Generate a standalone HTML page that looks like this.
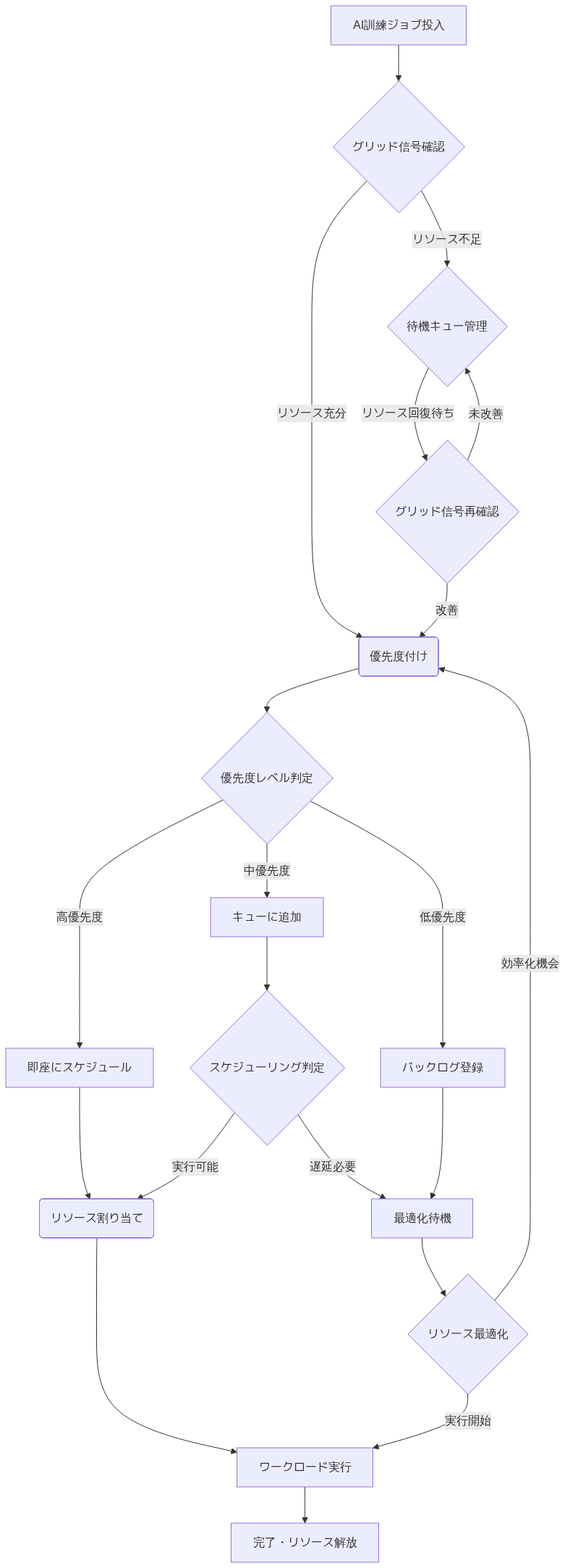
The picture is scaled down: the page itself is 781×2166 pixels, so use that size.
<!DOCTYPE html>
<html lang="ja">
<head>
<meta charset="utf-8">
<title>AI訓練ジョブ フローチャート</title>
<style>
html,body{margin:0;padding:0;background:#fff;}
body{width:781px;height:2166px;font-family:"Liberation Sans","WenQuanYi Zen Hei Mono","WenQuanYi Zen Hei",sans-serif;}
svg{will-change:transform;}
svg foreignObject{overflow:visible;}
</style>
</head>
<body>
<svg id="my-svg" width="781" height="2166" class="flowchart" style="display:block;background-color:white" viewBox="0 0 781 2166" role="graphics-document document" aria-roledescription="flowchart-v2"><style>#my-svg{font-family:"Liberation Sans","WenQuanYi Zen Hei Mono","WenQuanYi Zen Hei",sans-serif;font-size:16px;fill:#333;}@keyframes edge-animation-frame{from{stroke-dashoffset:0;}}@keyframes dash{to{stroke-dashoffset:0;}}#my-svg .edge-animation-slow{stroke-dasharray:9,5!important;stroke-dashoffset:900;animation:dash 50s linear infinite;stroke-linecap:round;}#my-svg .edge-animation-fast{stroke-dasharray:9,5!important;stroke-dashoffset:900;animation:dash 20s linear infinite;stroke-linecap:round;}#my-svg .error-icon{fill:#552222;}#my-svg .error-text{fill:#552222;stroke:#552222;}#my-svg .edge-thickness-normal{stroke-width:1px;}#my-svg .edge-thickness-thick{stroke-width:3.5px;}#my-svg .edge-pattern-solid{stroke-dasharray:0;}#my-svg .edge-thickness-invisible{stroke-width:0;fill:none;}#my-svg .edge-pattern-dashed{stroke-dasharray:3;}#my-svg .edge-pattern-dotted{stroke-dasharray:2;}#my-svg .marker{fill:#333333;stroke:#333333;}#my-svg .marker.cross{stroke:#333333;}#my-svg svg{font-family:"Liberation Sans","WenQuanYi Zen Hei Mono","WenQuanYi Zen Hei",sans-serif;font-size:16px;}#my-svg p{margin:0;}#my-svg .label{font-family:"Liberation Sans","WenQuanYi Zen Hei Mono","WenQuanYi Zen Hei",sans-serif;color:#333;}#my-svg .cluster-label text{fill:#333;}#my-svg .cluster-label span{color:#333;}#my-svg .cluster-label span p{background-color:transparent;}#my-svg .label text,#my-svg span{fill:#333;color:#333;}#my-svg .node rect,#my-svg .node circle,#my-svg .node ellipse,#my-svg .node polygon,#my-svg .node path{fill:#ECECFF;stroke:#9370DB;stroke-width:1px;}#my-svg .rough-node .label text,#my-svg .node .label text,#my-svg .image-shape .label,#my-svg .icon-shape .label{text-anchor:middle;}#my-svg .node .katex path{fill:#000;stroke:#000;stroke-width:1px;}#my-svg .rough-node .label,#my-svg .node .label,#my-svg .image-shape .label,#my-svg .icon-shape .label{text-align:center;}#my-svg .node.clickable{cursor:pointer;}#my-svg .root .anchor path{fill:#333333!important;stroke-width:0;stroke:#333333;}#my-svg .arrowheadPath{fill:#333333;}#my-svg .edgePath .path{stroke:#333333;stroke-width:2.0px;}#my-svg .flowchart-link{stroke:#333333;fill:none;}#my-svg .edgeLabel{background-color:rgba(232,232,232, 0.8);text-align:center;}#my-svg .edgeLabel p{background-color:rgba(232,232,232, 0.8);}#my-svg .edgeLabel rect{opacity:0.5;background-color:rgba(232,232,232, 0.8);fill:rgba(232,232,232, 0.8);}#my-svg .labelBkg{background-color:rgba(232, 232, 232, 0.5);}#my-svg .cluster rect{fill:#ffffde;stroke:#aaaa33;stroke-width:1px;}#my-svg .cluster text{fill:#333;}#my-svg .cluster span{color:#333;}#my-svg div.mermaidTooltip{position:absolute;text-align:center;max-width:200px;padding:2px;font-family:"Liberation Sans","WenQuanYi Zen Hei Mono","WenQuanYi Zen Hei",sans-serif;font-size:12px;background:hsl(80, 100%, 96.2745098039%);border:1px solid #aaaa33;border-radius:2px;pointer-events:none;z-index:100;}#my-svg .flowchartTitleText{text-anchor:middle;font-size:18px;fill:#333;}#my-svg rect.text{fill:none;stroke-width:0;}#my-svg .icon-shape,#my-svg .image-shape{background-color:rgba(232,232,232, 0.8);text-align:center;}#my-svg .icon-shape p,#my-svg .image-shape p{background-color:rgba(232,232,232, 0.8);padding:2px;}#my-svg .icon-shape rect,#my-svg .image-shape rect{opacity:0.5;background-color:rgba(232,232,232, 0.8);fill:rgba(232,232,232, 0.8);}#my-svg .label-icon{display:inline-block;height:1em;overflow:visible;vertical-align:-0.125em;}#my-svg .node .label-icon path{fill:currentColor;stroke:revert;stroke-width:revert;}#my-svg :root{--mermaid-font-family:"trebuchet ms",verdana,arial,sans-serif;}</style><g><marker id="my-svg_flowchart-v2-pointEnd" class="marker flowchart-v2" viewBox="0 0 10 10" refX="5" refY="5" markerUnits="userSpaceOnUse" markerWidth="8" markerHeight="8" orient="auto"><path d="M 0 0 L 10 5 L 0 10 z" class="arrowMarkerPath" style="stroke-width: 1; stroke-dasharray: 1, 0;"/></marker><marker id="my-svg_flowchart-v2-pointStart" class="marker flowchart-v2" viewBox="0 0 10 10" refX="4.5" refY="5" markerUnits="userSpaceOnUse" markerWidth="8" markerHeight="8" orient="auto"><path d="M 0 5 L 10 10 L 10 0 z" class="arrowMarkerPath" style="stroke-width: 1; stroke-dasharray: 1, 0;"/></marker><marker id="my-svg_flowchart-v2-circleEnd" class="marker flowchart-v2" viewBox="0 0 10 10" refX="11" refY="5" markerUnits="userSpaceOnUse" markerWidth="11" markerHeight="11" orient="auto"><circle cx="5" cy="5" r="5" class="arrowMarkerPath" style="stroke-width: 1; stroke-dasharray: 1, 0;"/></marker><marker id="my-svg_flowchart-v2-circleStart" class="marker flowchart-v2" viewBox="0 0 10 10" refX="-1" refY="5" markerUnits="userSpaceOnUse" markerWidth="11" markerHeight="11" orient="auto"><circle cx="5" cy="5" r="5" class="arrowMarkerPath" style="stroke-width: 1; stroke-dasharray: 1, 0;"/></marker><marker id="my-svg_flowchart-v2-crossEnd" class="marker cross flowchart-v2" viewBox="0 0 11 11" refX="12" refY="5.2" markerUnits="userSpaceOnUse" markerWidth="11" markerHeight="11" orient="auto"><path d="M 1,1 l 9,9 M 10,1 l -9,9" class="arrowMarkerPath" style="stroke-width: 2; stroke-dasharray: 1, 0;"/></marker><marker id="my-svg_flowchart-v2-crossStart" class="marker cross flowchart-v2" viewBox="0 0 11 11" refX="-1" refY="5.2" markerUnits="userSpaceOnUse" markerWidth="11" markerHeight="11" orient="auto"><path d="M 1,1 l 9,9 M 10,1 l -9,9" class="arrowMarkerPath" style="stroke-width: 2; stroke-dasharray: 1, 0;"/></marker><g class="root"><g class="clusters"/><g class="edgePaths"><path d="M551,62L551,66.167C551,70.333,551,78.667,551,86.333C551,94,551,101,551,104.5L551,108" id="L_A_B_0" class="edge-thickness-normal edge-pattern-solid flowchart-link" marker-end="url(#my-svg_flowchart-v2-pointEnd)"/><path d="M506.968,249.968L494.306,263.473C481.645,276.978,456.323,303.989,443.661,337.495C431,371,431,411,431,451C431,491,431,531,431,573.667C431,616.333,431,661.667,431,707C431,752.333,431,797.667,442.069,826.274C453.139,854.881,475.278,866.763,486.347,872.703L497.417,878.644" id="L_B_C_0" class="edge-thickness-normal edge-pattern-solid flowchart-link" marker-end="url(#my-svg_flowchart-v2-pointEnd)"/><path d="M582.267,262.733L588.222,274.111C594.178,285.489,606.089,308.244,612.044,325.122C618,342,618,353,618,358.5L618,364" id="L_B_D_0" class="edge-thickness-normal edge-pattern-solid flowchart-link" marker-end="url(#my-svg_flowchart-v2-pointEnd)"/><path d="M592.241,508.241L587.534,518.701C582.828,529.161,573.414,550.08,572.771,570.777C572.129,591.473,580.258,611.946,584.323,622.183L588.387,632.419" id="L_D_E_0" class="edge-thickness-normal edge-pattern-solid flowchart-link" marker-end="url(#my-svg_flowchart-v2-pointEnd)"/><path d="M618,806L618,812.167C618,818.333,618,830.667,612.104,842.617C606.207,854.566,594.414,866.133,588.518,871.916L582.621,877.699" id="L_E_C_0" class="edge-thickness-normal edge-pattern-solid flowchart-link" marker-end="url(#my-svg_flowchart-v2-pointEnd)"/><path d="M646.137,636.137L650.447,625.281C654.758,614.425,663.379,592.712,663.256,572.004C663.133,551.296,654.267,531.593,649.833,521.741L645.4,511.889" id="L_E_D_0" class="edge-thickness-normal edge-pattern-solid flowchart-link" marker-end="url(#my-svg_flowchart-v2-pointEnd)"/><path d="M496.5,923.214L475.25,929.179C454,935.143,411.5,947.071,390.25,956.536C369,966,369,973,369,976.5L369,980" id="L_C_F_0" class="edge-thickness-normal edge-pattern-solid flowchart-link" marker-end="url(#my-svg_flowchart-v2-pointEnd)"/><path d="M308.098,1105.098L275.082,1121.415C242.065,1137.732,176.033,1170.366,143.016,1197.35C110,1224.333,110,1245.667,110,1267C110,1288.333,110,1309.667,110,1339.167C110,1368.667,110,1406.333,110,1425.167L110,1444" id="L_F_G_0" class="edge-thickness-normal edge-pattern-solid flowchart-link" marker-end="url(#my-svg_flowchart-v2-pointEnd)"/><path d="M369,1166L369,1172.167C369,1178.333,369,1190.667,369,1202.333C369,1214,369,1225,369,1230.5L369,1236" id="L_F_H_0" class="edge-thickness-normal edge-pattern-solid flowchart-link" marker-end="url(#my-svg_flowchart-v2-pointEnd)"/><path d="M428.604,1106.396L459.17,1122.497C489.736,1138.597,550.868,1170.799,581.434,1197.566C612,1224.333,612,1245.667,612,1267C612,1288.333,612,1309.667,612,1339.167C612,1368.667,612,1406.333,612,1425.167L612,1444" id="L_F_I_0" class="edge-thickness-normal edge-pattern-solid flowchart-link" marker-end="url(#my-svg_flowchart-v2-pointEnd)"/><path d="M110,1502L110,1521.5C110,1541,110,1580,112.113,1605.126C114.226,1630.252,118.453,1641.504,120.566,1647.13L122.679,1652.755" id="L_G_J_0" class="edge-thickness-normal edge-pattern-solid flowchart-link" marker-end="url(#my-svg_flowchart-v2-pointEnd)"/><path d="M369,1294L369,1300.167C369,1306.333,369,1318.667,369,1330.333C369,1342,369,1353,369,1358.5L369,1364" id="L_H_K_0" class="edge-thickness-normal edge-pattern-solid flowchart-link" marker-end="url(#my-svg_flowchart-v2-pointEnd)"/><path d="M324.255,1537.255L314.462,1550.879C304.67,1564.503,285.085,1591.752,263.255,1611.33C241.424,1630.909,217.349,1642.818,205.311,1648.772L193.273,1654.727" id="L_K_J_0" class="edge-thickness-normal edge-pattern-solid flowchart-link" marker-end="url(#my-svg_flowchart-v2-pointEnd)"/><path d="M411.666,1539.334L420.472,1552.612C429.277,1565.889,446.889,1592.445,466.573,1611.573C486.258,1630.702,508.016,1642.404,518.895,1648.254L529.774,1654.105" id="L_K_L_0" class="edge-thickness-normal edge-pattern-solid flowchart-link" marker-end="url(#my-svg_flowchart-v2-pointEnd)"/><path d="M612,1502L612,1521.5C612,1541,612,1580,609.525,1605.058C607.05,1630.115,602.1,1641.231,599.626,1646.788L597.151,1652.346" id="L_I_L_0" class="edge-thickness-normal edge-pattern-solid flowchart-link" marker-end="url(#my-svg_flowchart-v2-pointEnd)"/><path d="M583.5,1710L583.5,1714.167C583.5,1718.333,583.5,1726.667,588.568,1739.521C593.635,1752.375,603.77,1769.749,608.838,1778.437L613.906,1787.124" id="L_L_M_0" class="edge-thickness-normal edge-pattern-solid flowchart-link" marker-end="url(#my-svg_flowchart-v2-pointEnd)"/><path d="M646.5,1926L646.5,1932.167C646.5,1938.333,646.5,1950.667,625.308,1962.861C604.116,1975.056,561.732,1987.112,540.539,1993.14L519.347,1999.168" id="L_M_N_0" class="edge-thickness-normal edge-pattern-solid flowchart-link" marker-end="url(#my-svg_flowchart-v2-pointEnd)"/><path d="M683.413,1796.913L691.677,1786.594C699.942,1776.275,716.471,1755.638,724.735,1736.652C733,1717.667,733,1700.333,733,1681C733,1661.667,733,1640.333,733,1605.667C733,1571,733,1523,733,1475C733,1427,733,1379,733,1344.333C733,1309.667,733,1288.333,733,1267C733,1245.667,733,1224.333,733,1192.333C733,1160.333,733,1117.667,733,1077C733,1036.333,733,997.667,712.558,972.551C692.116,947.434,651.233,935.869,630.791,930.086L610.349,924.303" id="L_M_C_0" class="edge-thickness-normal edge-pattern-solid flowchart-link" marker-end="url(#my-svg_flowchart-v2-pointEnd)"/><path d="M134,1710.5L133.917,1714.583C133.833,1718.667,133.667,1726.833,133.583,1748.917C133.5,1771,133.5,1807,133.5,1845C133.5,1883,133.5,1923,165.183,1950.041C196.865,1977.081,260.23,1991.162,291.913,1998.203L323.595,2005.243" id="L_J_N_0" class="edge-thickness-normal edge-pattern-solid flowchart-link" marker-end="url(#my-svg_flowchart-v2-pointEnd)"/><path d="M421.5,2054L421.5,2058.167C421.5,2062.333,421.5,2070.667,421.5,2078.333C421.5,2086,421.5,2093,421.5,2096.5L421.5,2100" id="L_N_O_0" class="edge-thickness-normal edge-pattern-solid flowchart-link" marker-end="url(#my-svg_flowchart-v2-pointEnd)"/></g><g class="edgeLabels"><g class="edgeLabel"><g class="label" transform="translate(0, 0)"><foreignObject width="0" height="0"><div class="labelBkg" style="display: table-cell; white-space: nowrap; line-height: 1.5; max-width: 200px; text-align: center;"><span class="edgeLabel"></span></div></foreignObject></g></g><g class="edgeLabel" transform="translate(431, 571)"><g class="label" transform="translate(-48, -12)"><foreignObject width="96" height="24"><div class="labelBkg" style="display: table-cell; white-space: nowrap; line-height: 1.5; max-width: 200px; text-align: center;"><span class="edgeLabel"><p>リソース充分</p></span></div></foreignObject></g></g><g class="edgeLabel" transform="translate(618, 331)"><g class="label" transform="translate(-48, -12)"><foreignObject width="96" height="24"><div class="labelBkg" style="display: table-cell; white-space: nowrap; line-height: 1.5; max-width: 200px; text-align: center;"><span class="edgeLabel"><p>リソース不足</p></span></div></foreignObject></g></g><g class="edgeLabel" transform="translate(564, 571)"><g class="label" transform="translate(-64, -12)"><foreignObject width="128" height="24"><div class="labelBkg" style="display: table-cell; white-space: nowrap; line-height: 1.5; max-width: 200px; text-align: center;"><span class="edgeLabel"><p>リソース回復待ち</p></span></div></foreignObject></g></g><g class="edgeLabel" transform="translate(618, 843)"><g class="label" transform="translate(-16, -12)"><foreignObject width="32" height="24"><div class="labelBkg" style="display: table-cell; white-space: nowrap; line-height: 1.5; max-width: 200px; text-align: center;"><span class="edgeLabel"><p>改善</p></span></div></foreignObject></g></g><g class="edgeLabel" transform="translate(671.76688, 571.58711)"><g class="label" transform="translate(-23.76688, -11.58711)"><foreignObject width="48" height="24"><div class="labelBkg" style="display: table-cell; white-space: nowrap; line-height: 1.5; max-width: 200px; text-align: center;"><span class="edgeLabel"><p>未改善</p></span></div></foreignObject></g></g><g class="edgeLabel"><g class="label" transform="translate(0, 0)"><foreignObject width="0" height="0"><div class="labelBkg" style="display: table-cell; white-space: nowrap; line-height: 1.5; max-width: 200px; text-align: center;"><span class="edgeLabel"></span></div></foreignObject></g></g><g class="edgeLabel" transform="translate(110, 1267)"><g class="label" transform="translate(-32, -12)"><foreignObject width="64" height="24"><div class="labelBkg" style="display: table-cell; white-space: nowrap; line-height: 1.5; max-width: 200px; text-align: center;"><span class="edgeLabel"><p>高優先度</p></span></div></foreignObject></g></g><g class="edgeLabel" transform="translate(369, 1203)"><g class="label" transform="translate(-32, -12)"><foreignObject width="64" height="24"><div class="labelBkg" style="display: table-cell; white-space: nowrap; line-height: 1.5; max-width: 200px; text-align: center;"><span class="edgeLabel"><p>中優先度</p></span></div></foreignObject></g></g><g class="edgeLabel" transform="translate(612, 1267)"><g class="label" transform="translate(-32, -12)"><foreignObject width="64" height="24"><div class="labelBkg" style="display: table-cell; white-space: nowrap; line-height: 1.5; max-width: 200px; text-align: center;"><span class="edgeLabel"><p>低優先度</p></span></div></foreignObject></g></g><g class="edgeLabel"><g class="label" transform="translate(0, 0)"><foreignObject width="0" height="0"><div class="labelBkg" style="display: table-cell; white-space: nowrap; line-height: 1.5; max-width: 200px; text-align: center;"><span class="edgeLabel"></span></div></foreignObject></g></g><g class="edgeLabel"><g class="label" transform="translate(0, 0)"><foreignObject width="0" height="0"><div class="labelBkg" style="display: table-cell; white-space: nowrap; line-height: 1.5; max-width: 200px; text-align: center;"><span class="edgeLabel"></span></div></foreignObject></g></g><g class="edgeLabel" transform="translate(270.19529, 1612.46742)"><g class="label" transform="translate(-32.19529, -12.46742)"><foreignObject width="64" height="24"><div class="labelBkg" style="display: table-cell; white-space: nowrap; line-height: 1.5; max-width: 200px; text-align: center;"><span class="edgeLabel"><p>実行可能</p></span></div></foreignObject></g></g><g class="edgeLabel" transform="translate(459.66998, 1611.71704)"><g class="label" transform="translate(-31.66998, -11.71704)"><foreignObject width="64" height="24"><div class="labelBkg" style="display: table-cell; white-space: nowrap; line-height: 1.5; max-width: 200px; text-align: center;"><span class="edgeLabel"><p>遅延必要</p></span></div></foreignObject></g></g><g class="edgeLabel"><g class="label" transform="translate(0, 0)"><foreignObject width="0" height="0"><div class="labelBkg" style="display: table-cell; white-space: nowrap; line-height: 1.5; max-width: 200px; text-align: center;"><span class="edgeLabel"></span></div></foreignObject></g></g><g class="edgeLabel"><g class="label" transform="translate(0, 0)"><foreignObject width="0" height="0"><div class="labelBkg" style="display: table-cell; white-space: nowrap; line-height: 1.5; max-width: 200px; text-align: center;"><span class="edgeLabel"></span></div></foreignObject></g></g><g class="edgeLabel" transform="translate(646.5, 1963)"><g class="label" transform="translate(-31.5, -12)"><foreignObject width="64" height="24"><div class="labelBkg" style="display: table-cell; white-space: nowrap; line-height: 1.5; max-width: 200px; text-align: center;"><span class="edgeLabel"><p>実行開始</p></span></div></foreignObject></g></g><g class="edgeLabel" transform="translate(733, 1331)"><g class="label" transform="translate(-40, -12)"><foreignObject width="80" height="24"><div class="labelBkg" style="display: table-cell; white-space: nowrap; line-height: 1.5; max-width: 200px; text-align: center;"><span class="edgeLabel"><p>効率化機会</p></span></div></foreignObject></g></g><g class="edgeLabel"><g class="label" transform="translate(0, 0)"><foreignObject width="0" height="0"><div class="labelBkg" style="display: table-cell; white-space: nowrap; line-height: 1.5; max-width: 200px; text-align: center;"><span class="edgeLabel"></span></div></foreignObject></g></g><g class="edgeLabel"><g class="label" transform="translate(0, 0)"><foreignObject width="0" height="0"><div class="labelBkg" style="display: table-cell; white-space: nowrap; line-height: 1.5; max-width: 200px; text-align: center;"><span class="edgeLabel"></span></div></foreignObject></g></g></g><g class="nodes"><g class="node default" id="flowchart-A-0" transform="translate(551, 35)"><rect class="basic label-container" x="-93.5" y="-27" width="187" height="54"/><g class="label" transform="translate(-63, -12)"><rect/><foreignObject width="127" height="24"><div style="display: table-cell; white-space: nowrap; line-height: 1.5; max-width: 200px; text-align: center;"><span class="nodeLabel"><p>AI訓練ジョブ投入</p></span></div></foreignObject></g></g><g class="node default" id="flowchart-B-1" transform="translate(551, 203)"><polygon points="91,0 182,-91 91,-182 0,-91" class="label-container" transform="translate(-90.5, 91)"/><g class="label" transform="translate(-64, -12)"><rect/><foreignObject width="128" height="24"><div style="display: table-cell; white-space: nowrap; line-height: 1.5; max-width: 200px; text-align: center;"><span class="nodeLabel"><p>グリッド信号確認</p></span></div></foreignObject></g></g><g class="node default" id="flowchart-C-3" transform="translate(551, 907)"><g class="basic label-container outer-path"><path d="M-50 -27 C-19.668599234441547 -27, 10.662801531116905 -27, 50 -27 C50 -27, 50 -27, 50 -27 C50.14971050367104 -26.993807927765246, 50.299421007342076 -26.98761585553049, 50.41289672736166 -26.982922465033347 C50.502722984680915 -26.9717256337353, 50.59254924200017 -26.960528802437253, 50.82297295140367 -26.931806517013612 C50.96068710601095 -26.902930895328094, 51.098401260618225 -26.87405527364258, 51.227427435703994 -26.847001329696653 C51.361478106253216 -26.80709271595942, 51.49552877680243 -26.767184102222185, 51.62349734602342 -26.729086208503173 C51.709364082865214 -26.695580903816765, 51.79523081970701 -26.66207559913036, 52.008477123264846 -26.578866633275286 C52.13616727961195 -26.51644271960361, 52.26385743595905 -26.454018805931938, 52.379736965185366 -26.397368756032446 C52.4887608951321 -26.332404594644398, 52.59778482507884 -26.26744043325635, 52.734740790612136 -26.185832391312644 C52.852331558519396 -26.101874196765863, 52.969922326426655 -26.017916002219085, 53.07106356344834 -25.94570254698197 C53.18628704885161 -25.848113232903515, 53.30151053425488 -25.750523918825063, 53.386407858128706 -25.678619553365657 C53.44752406708359 -25.61750334441077, 53.50864027603848 -25.556387135455886, 53.67861955336566 -25.386407858128706 C53.75642833421826 -25.294539204173326, 53.83423711507087 -25.202670550217945, 53.94570254698197 -25.07106356344834 C54.03762474578779 -24.94231851356191, 54.1295469445936 -24.813573463675485, 54.185832391312644 -24.734740790612136 C54.26026836151221 -24.609821114483637, 54.33470433171178 -24.484901438355138, 54.39736875603245 -24.37973696518537 C54.46657123051403 -24.238181041078523, 54.53577370499561 -24.09662511697168, 54.57886663327529 -24.008477123264846 C54.61006113417316 -23.928532468990586, 54.64125563507103 -23.84858781471632, 54.729086208503176 -23.623497346023417 C54.75609867459084 -23.532764071846554, 54.78311114067849 -23.442030797669695, 54.84700132969665 -23.227427435703994 C54.879736482298185 -23.071306334120194, 54.91247163489971 -22.915185232536395, 54.93180651701361 -22.82297295140367 C54.951669958190635 -22.663619065387312, 54.971533399367665 -22.504265179370957, 54.98292246503335 -22.412896727361662 C54.98866620177089 -22.274025976612897, 54.994409938508426 -22.135155225864132, 55 -22 C55 -22, 55 -22, 55 -22 C55 -11.996721364302791, 55 -1.993442728605583, 55 22 C55 22, 55 22, 55 22 C54.99470448624933 22.12803371807582, 54.98940897249866 22.256067436151643, 54.98292246503335 22.412896727361662 C54.96943457134164 22.521102966894627, 54.95594667764992 22.629309206427592, 54.93180651701361 22.82297295140367 C54.900078067417695 22.974292866198535, 54.86834961782178 23.1256127809934, 54.84700132969665 23.227427435703994 C54.81291109728246 23.34193450789623, 54.778820864868266 23.456441580088462, 54.729086208503176 23.623497346023417 C54.68826428186886 23.728114977902642, 54.647442355234546 23.83273260978187, 54.57886663327529 24.008477123264846 C54.53971595185544 24.088561122129285, 54.500565270435594 24.16864512099372, 54.39736875603245 24.379736965185366 C54.3381470193502 24.47912386302897, 54.27892528266795 24.57851076087258, 54.185832391312644 24.734740790612133 C54.12869317692175 24.814769239700553, 54.071553962530864 24.89479768878897, 53.94570254698197 25.07106356344834 C53.84544400388264 25.189438601601303, 53.74518546078331 25.30781363975427, 53.67861955336566 25.386407858128706 C53.56507657014656 25.499950841347804, 53.45153358692746 25.613493824566902, 53.386407858128706 25.678619553365657 C53.264294642908744 25.78204417093839, 53.142181427688776 25.88546878851113, 53.07106356344834 25.94570254698197 C52.98299509230402 26.008582226784757, 52.894926621159705 26.07146190658754, 52.734740790612136 26.185832391312644 C52.627041997182204 26.25000694272625, 52.519343203752264 26.314181494139856, 52.379736965185366 26.397368756032446 C52.23618136356353 26.467548813282644, 52.092625761941704 26.537728870532842, 52.008477123264846 26.578866633275286 C51.89821141827815 26.62189244487504, 51.78794571329146 26.664918256474795, 51.62349734602342 26.729086208503173 C51.4945071401179 26.767488256641226, 51.365516934212394 26.805890304779275, 51.227427435703994 26.847001329696653 C51.085416650680436 26.87677786004168, 50.94340586565687 26.90655439038671, 50.82297295140367 26.931806517013612 C50.68103030928702 26.94949964890188, 50.53908766717037 26.96719278079015, 50.41289672736166 26.982922465033347 C50.310285997592736 26.98716647620965, 50.20767526782381 26.991410487385956, 50 27 C50 27, 50 27, 50 27 C26.10448095411966 27, 2.208961908239317 27, -50 27 C-50 27, -50 27, -50 27 C-50.10005961063808 26.995861503891444, -50.20011922127616 26.99172300778289, -50.41289672736166 26.982922465033347 C-50.51767432687943 26.969861950873828, -50.62245192639719 26.956801436714308, -50.82297295140367 26.931806517013612 C-50.94107166682127 26.907043820414493, -51.05917038223887 26.882281123815375, -51.227427435703994 26.847001329696653 C-51.3288661079785 26.816801728506785, -51.430304780252996 26.786602127316915, -51.62349734602342 26.729086208503173 C-51.717215760030534 26.692517169879746, -51.81093417403764 26.65594813125632, -52.008477123264846 26.578866633275286 C-52.09176841002288 26.53814800434627, -52.17505969678091 26.49742937541725, -52.379736965185366 26.397368756032446 C-52.465873378414415 26.346042594398636, -52.55200979164346 26.294716432764826, -52.734740790612136 26.185832391312644 C-52.85041563345218 26.103242140970952, -52.96609047629222 26.02065189062926, -53.07106356344834 25.94570254698197 C-53.16546341785332 25.865749948705282, -53.25986327225829 25.785797350428595, -53.386407858128706 25.67861955336566 C-53.48640464988937 25.57862276160499, -53.58640144165005 25.47862596984432, -53.67861955336566 25.386407858128706 C-53.738289750332186 25.315955389699063, -53.797959947298715 25.245502921269416, -53.94570254698197 25.07106356344834 C-54.01066394834279 24.980079459852657, -54.075625349703614 24.889095356256973, -54.185832391312644 24.734740790612133 C-54.23912439741115 24.64530526469347, -54.29241640350966 24.555869738774803, -54.39736875603244 24.37973696518537 C-54.448514667857125 24.275116330347267, -54.499660579681816 24.170495695509167, -54.57886663327528 24.00847712326485 C-54.633184779455966 23.86927164498359, -54.68750292563664 23.730066166702333, -54.729086208503176 23.623497346023417 C-54.77397071007056 23.472732962875696, -54.81885521163793 23.321968579727972, -54.84700132969665 23.227427435703994 C-54.87926431055385 23.073558224427803, -54.911527291411055 22.91968901315161, -54.93180651701361 22.82297295140367 C-54.94959074297956 22.680299509666693, -54.9673749689455 22.537626067929715, -54.98292246503335 22.412896727361662 C-54.989554877531496 22.25253977769969, -54.996187290029646 22.09218282803771, -55 22 C-55 22, -55 22, -55 22 C-55 12.71447777681011, -55 3.42895555362022, -55 -22 C-55 -22, -55 -22, -55 -22 C-54.99494241088921 -22.12228123064964, -54.989884821778425 -22.24456246129928, -54.98292246503335 -22.41289672736166 C-54.96398901443228 -22.564789790708048, -54.94505556383121 -22.716682854054437, -54.93180651701361 -22.82297295140367 C-54.912206040816415 -22.916451908802227, -54.89260556461922 -23.009930866200786, -54.84700132969665 -23.227427435703994 C-54.81491567804253 -23.335201239814637, -54.78283002638841 -23.44297504392528, -54.729086208503176 -23.623497346023417 C-54.69072642210587 -23.721805053257057, -54.65236663570856 -23.820112760490694, -54.57886663327529 -24.008477123264846 C-54.520299382862284 -24.128278348823855, -54.461732132449285 -24.248079574382864, -54.39736875603245 -24.379736965185366 C-54.326641480034425 -24.498432649374564, -54.2559142040364 -24.617128333563763, -54.185832391312644 -24.734740790612133 C-54.11104959553302 -24.839480612965964, -54.03626679975339 -24.944220435319792, -53.94570254698197 -25.07106356344834 C-53.85655518372499 -25.176319656351325, -53.767407820468016 -25.281575749254305, -53.67861955336566 -25.386407858128706 C-53.61031709368951 -25.45471031780485, -53.54201463401337 -25.523012777480997, -53.386407858128706 -25.678619553365657 C-53.29533861093383 -25.755751271229286, -53.20426936373895 -25.832882989092916, -53.07106356344834 -25.945702546981966 C-52.98560809072173 -26.006716581773592, -52.900152617995126 -26.06773061656522, -52.734740790612136 -26.185832391312644 C-52.65681370590826 -26.2322668549178, -52.57888662120438 -26.278701318522952, -52.379736965185366 -26.397368756032446 C-52.28927468406653 -26.441593070487468, -52.19881240294769 -26.48581738494249, -52.008477123264846 -26.578866633275286 C-51.86286180574266 -26.635685906489055, -51.717246488220475 -26.692505179702824, -51.62349734602342 -26.729086208503173 C-51.4919964373073 -26.768235725253405, -51.36049552859119 -26.80738524200364, -51.227427435703994 -26.847001329696653 C-51.139781027261805 -26.8653788489828, -51.052134618819615 -26.88375636826895, -50.82297295140367 -26.931806517013612 C-50.708689942048636 -26.94605187927371, -50.594406932693595 -26.960297241533805, -50.41289672736166 -26.982922465033347 C-50.322015356908565 -26.98668134631983, -50.23113398645546 -26.990440227606314, -50 -27 C-50 -27, -50 -27, -50 -27" stroke="none" stroke-width="0" fill="#ECECFF"/><path d="M-50 -27 C-12.357451599143367 -27, 25.285096801713266 -27, 50 -27 M-50 -27 C-15.25623336268491 -27, 19.48753327463018 -27, 50 -27 M50 -27 C50 -27, 50 -27, 50 -27 M50 -27 C50 -27, 50 -27, 50 -27 M50 -27 C50.0877426640002 -26.996370936572674, 50.1754853280004 -26.99274187314535, 50.41289672736166 -26.982922465033347 M50 -27 C50.106430142305626 -26.995598016752655, 50.212860284611246 -26.991196033505307, 50.41289672736166 -26.982922465033347 M50.41289672736166 -26.982922465033347 C50.57608935472662 -26.962580525246228, 50.739281982091576 -26.942238585459112, 50.82297295140367 -26.931806517013612 M50.41289672736166 -26.982922465033347 C50.51829819681711 -26.969784185567196, 50.623699666272564 -26.95664590610104, 50.82297295140367 -26.931806517013612 M50.82297295140367 -26.931806517013612 C50.94872479316404 -26.905439128568435, 51.07447663492441 -26.879071740123255, 51.227427435703994 -26.847001329696653 M50.82297295140367 -26.931806517013612 C50.98276533666448 -26.89830157717518, 51.14255772192528 -26.86479663733675, 51.227427435703994 -26.847001329696653 M51.227427435703994 -26.847001329696653 C51.355919423403684 -26.808747607544973, 51.48441141110337 -26.770493885393293, 51.62349734602342 -26.729086208503173 M51.227427435703994 -26.847001329696653 C51.32734479577269 -26.817254642773804, 51.42726215584138 -26.787507955850955, 51.62349734602342 -26.729086208503173 M51.62349734602342 -26.729086208503173 C51.757015789918526 -26.67698715002605, 51.890534233813625 -26.62488809154893, 52.008477123264846 -26.578866633275286 M51.62349734602342 -26.729086208503173 C51.70231414940252 -26.698331796390242, 51.78113095278161 -26.66757738427731, 52.008477123264846 -26.578866633275286 M52.008477123264846 -26.578866633275286 C52.128053903249075 -26.520409107617777, 52.2476306832333 -26.461951581960268, 52.379736965185366 -26.397368756032446 M52.008477123264846 -26.578866633275286 C52.10374920005262 -26.532290952996888, 52.1990212768404 -26.485715272718494, 52.379736965185366 -26.397368756032446 M52.379736965185366 -26.397368756032446 C52.47434606828358 -26.340993967071405, 52.56895517138179 -26.28461917811036, 52.734740790612136 -26.185832391312644 M52.379736965185366 -26.397368756032446 C52.52123214961343 -26.313055926717748, 52.662727334041506 -26.228743097403054, 52.734740790612136 -26.185832391312644 M52.734740790612136 -26.185832391312644 C52.82515665610752 -26.12127670415731, 52.91557252160289 -26.056721017001976, 53.07106356344834 -25.94570254698197 M52.734740790612136 -26.185832391312644 C52.83604492410841 -26.11350263022816, 52.93734905760468 -26.04117286914368, 53.07106356344834 -25.94570254698197 M53.07106356344834 -25.94570254698197 C53.17316179989277 -25.859229751714935, 53.27526003633719 -25.7727569564479, 53.386407858128706 -25.678619553365657 M53.07106356344834 -25.94570254698197 C53.17222703966644 -25.86002145324172, 53.27339051588453 -25.77434035950147, 53.386407858128706 -25.678619553365657 M53.386407858128706 -25.678619553365657 C53.47759739603651 -25.58743001545785, 53.56878693394432 -25.496240477550046, 53.67861955336566 -25.386407858128706 M53.386407858128706 -25.678619553365657 C53.49135142550766 -25.573675985986707, 53.596294992886605 -25.468732418607754, 53.67861955336566 -25.386407858128706 M53.67861955336566 -25.386407858128706 C53.756505664515444 -25.29444790046397, 53.83439177566524 -25.202487942799234, 53.94570254698197 -25.07106356344834 M53.67861955336566 -25.386407858128706 C53.75541145873163 -25.295739826791667, 53.8322033640976 -25.205071795454625, 53.94570254698197 -25.07106356344834 M53.94570254698197 -25.07106356344834 C54.026893497149125 -24.957348562443215, 54.10808444731628 -24.84363356143809, 54.185832391312644 -24.734740790612136 M53.94570254698197 -25.07106356344834 C53.99693749294291 -24.99930455681704, 54.04817243890386 -24.92754555018574, 54.185832391312644 -24.734740790612136 M54.185832391312644 -24.734740790612136 C54.26769936513238 -24.597350281322562, 54.349566338952116 -24.459959772032985, 54.39736875603245 -24.37973696518537 M54.185832391312644 -24.734740790612136 C54.23878084342781 -24.645881822669633, 54.29172929554298 -24.557022854727133, 54.39736875603245 -24.37973696518537 M54.39736875603245 -24.37973696518537 C54.46195267084667 -24.24762845588058, 54.526536585660885 -24.11551994657579, 54.57886663327529 -24.008477123264846 M54.39736875603245 -24.37973696518537 C54.44656122995508 -24.279112151442998, 54.49575370387772 -24.17848733770063, 54.57886663327529 -24.008477123264846 M54.57886663327529 -24.008477123264846 C54.62452793462827 -23.891457236896795, 54.670189235981255 -23.774437350528743, 54.729086208503176 -23.623497346023417 M54.57886663327529 -24.008477123264846 C54.616793988469496 -23.911277642226022, 54.65472134366371 -23.814078161187197, 54.729086208503176 -23.623497346023417 M54.729086208503176 -23.623497346023417 C54.76252645357587 -23.51117354282544, 54.79596669864856 -23.39884973962746, 54.84700132969665 -23.227427435703994 M54.729086208503176 -23.623497346023417 C54.75779030581406 -23.52708198272943, 54.786494403124955 -23.43066661943545, 54.84700132969665 -23.227427435703994 M54.84700132969665 -23.227427435703994 C54.86925515475001 -23.12129407735145, 54.89150897980337 -23.01516071899891, 54.93180651701361 -22.82297295140367 M54.84700132969665 -23.227427435703994 C54.87146564961172 -23.110751743944412, 54.89592996952679 -22.994076052184834, 54.93180651701361 -22.82297295140367 M54.93180651701361 -22.82297295140367 C54.947964517426655 -22.6933458574311, 54.964122517839705 -22.563718763458535, 54.98292246503335 -22.412896727361662 M54.93180651701361 -22.82297295140367 C54.9449673936631 -22.717390196694296, 54.958128270312585 -22.611807441984926, 54.98292246503335 -22.412896727361662 M54.98292246503335 -22.412896727361662 C54.9894453513735 -22.255187876051533, 54.99596823771365 -22.097479024741403, 55 -22 M54.98292246503335 -22.412896727361662 C54.98878456252778 -22.27116427735335, 54.99464666002221 -22.129431827345037, 55 -22 M55 -22 C55 -22, 55 -22, 55 -22 M55 -22 C55 -22, 55 -22, 55 -22 M55 -22 C55 -10.189972153638417, 55 1.6200556927231666, 55 22 M55 -22 C55 -10.335438092755602, 55 1.3291238144887956, 55 22 M55 22 C55 22, 55 22, 55 22 M55 22 C55 22, 55 22, 55 22 M55 22 C54.99356476654114 22.15558960003072, 54.987129533082275 22.31117920006144, 54.98292246503335 22.412896727361662 M55 22 C54.993546501472075 22.156031208685324, 54.98709300294416 22.31206241737065, 54.98292246503335 22.412896727361662 M54.98292246503335 22.412896727361662 C54.972583339120135 22.495842067879423, 54.96224421320692 22.578787408397183, 54.93180651701361 22.82297295140367 M54.98292246503335 22.412896727361662 C54.967726168844486 22.53480857683274, 54.95252987265562 22.656720426303817, 54.93180651701361 22.82297295140367 M54.93180651701361 22.82297295140367 C54.898670110452784 22.981007720869314, 54.86553370389195 23.13904249033496, 54.84700132969665 23.227427435703994 M54.93180651701361 22.82297295140367 C54.90084154212949 22.970651688334236, 54.86987656724538 23.118330425264798, 54.84700132969665 23.227427435703994 M54.84700132969665 23.227427435703994 C54.80932973605365 23.35396408821094, 54.77165814241065 23.480500740717886, 54.729086208503176 23.623497346023417 M54.84700132969665 23.227427435703994 C54.81570025054425 23.332565907235985, 54.784399171391854 23.437704378767975, 54.729086208503176 23.623497346023417 M54.729086208503176 23.623497346023417 C54.680011829776745 23.749264200054938, 54.630937451050315 23.875031054086456, 54.57886663327529 24.008477123264846 M54.729086208503176 23.623497346023417 C54.68153681102317 23.74535600806561, 54.63398741354317 23.867214670107803, 54.57886663327529 24.008477123264846 M54.57886663327529 24.008477123264846 C54.53008802716151 24.10825535687292, 54.481309421047726 24.208033590480994, 54.39736875603245 24.379736965185366 M54.57886663327529 24.008477123264846 C54.53031571809429 24.10778960762562, 54.4817648029133 24.207102091986396, 54.39736875603245 24.379736965185366 M54.39736875603245 24.379736965185366 C54.339209197721615 24.477341297720933, 54.28104963941078 24.5749456302565, 54.185832391312644 24.734740790612133 M54.39736875603245 24.379736965185366 C54.34420864655719 24.46895114000972, 54.291048537081934 24.55816531483408, 54.185832391312644 24.734740790612133 M54.185832391312644 24.734740790612133 C54.10120300345325 24.85327162324411, 54.016573615593856 24.971802455876087, 53.94570254698197 25.07106356344834 M54.185832391312644 24.734740790612133 C54.10531456150654 24.847513027893278, 54.024796731700434 24.960285265174424, 53.94570254698197 25.07106356344834 M53.94570254698197 25.07106356344834 C53.84475632580207 25.190250541576773, 53.74381010462216 25.30943751970521, 53.67861955336566 25.386407858128706 M53.94570254698197 25.07106356344834 C53.85356354040557 25.17985188294399, 53.76142453382916 25.288640202439638, 53.67861955336566 25.386407858128706 M53.67861955336566 25.386407858128706 C53.596002762914374 25.469024648579992, 53.513385972463084 25.551641439031275, 53.386407858128706 25.678619553365657 M53.67861955336566 25.386407858128706 C53.61648297052215 25.448544440972213, 53.55434638767864 25.51068102381572, 53.386407858128706 25.678619553365657 M53.386407858128706 25.678619553365657 C53.265994871953176 25.780604150393607, 53.145581885777645 25.882588747421558, 53.07106356344834 25.94570254698197 M53.386407858128706 25.678619553365657 C53.29278476017134 25.757914272489824, 53.19916166221396 25.83720899161399, 53.07106356344834 25.94570254698197 M53.07106356344834 25.94570254698197 C52.974974958508035 26.014308492252006, 52.87888635356773 26.082914437522042, 52.734740790612136 26.185832391312644 M53.07106356344834 25.94570254698197 C53.00032940377708 25.99620576627778, 52.92959524410581 26.046708985573588, 52.734740790612136 26.185832391312644 M52.734740790612136 26.185832391312644 C52.638001006680405 26.243476790473967, 52.54126122274867 26.30112118963529, 52.379736965185366 26.397368756032446 M52.734740790612136 26.185832391312644 C52.63597810768899 26.244682176636566, 52.53721542476584 26.30353196196049, 52.379736965185366 26.397368756032446 M52.379736965185366 26.397368756032446 C52.296266092594244 26.438175179125576, 52.212795220003116 26.478981602218703, 52.008477123264846 26.578866633275286 M52.379736965185366 26.397368756032446 C52.23722810684979 26.467037091671465, 52.09471924851422 26.53670542731048, 52.008477123264846 26.578866633275286 M52.008477123264846 26.578866633275286 C51.88970979612754 26.6252097881323, 51.77094246899023 26.67155294298931, 51.62349734602342 26.729086208503173 M52.008477123264846 26.578866633275286 C51.9310761571003 26.60906858399275, 51.85367519093575 26.639270534710214, 51.62349734602342 26.729086208503173 M51.62349734602342 26.729086208503173 C51.53246852777479 26.75618666187321, 51.44143970952616 26.783287115243247, 51.227427435703994 26.847001329696653 M51.62349734602342 26.729086208503173 C51.4876623213085 26.769526047491855, 51.35182729659358 26.809965886480537, 51.227427435703994 26.847001329696653 M51.227427435703994 26.847001329696653 C51.10719118999455 26.87221221926638, 50.98695494428512 26.89742310883611, 50.82297295140367 26.931806517013612 M51.227427435703994 26.847001329696653 C51.13698972649944 26.865964123205732, 51.04655201729489 26.884926916714814, 50.82297295140367 26.931806517013612 M50.82297295140367 26.931806517013612 C50.679481407000026 26.949692719370606, 50.53598986259639 26.967578921727604, 50.41289672736166 26.982922465033347 M50.82297295140367 26.931806517013612 C50.72120448107558 26.944491943610803, 50.619436010747485 26.957177370207997, 50.41289672736166 26.982922465033347 M50.41289672736166 26.982922465033347 C50.29663464354151 26.98773110038975, 50.18037255972135 26.992539735746153, 50 27 M50.41289672736166 26.982922465033347 C50.25405627140281 26.989492154887973, 50.09521581544395 26.9960618447426, 50 27 M50 27 C50 27, 50 27, 50 27 M50 27 C50 27, 50 27, 50 27 M50 27 C15.836276840679474 27, -18.32744631864105 27, -50 27 M50 27 C10.180955855494524 27, -29.638088289010952 27, -50 27 M-50 27 C-50 27, -50 27, -50 27 M-50 27 C-50 27, -50 27, -50 27 M-50 27 C-50.160711220787 26.993352934739733, -50.321422441574 26.986705869479465, -50.41289672736166 26.982922465033347 M-50 27 C-50.14599684923476 26.993961525648896, -50.291993698469525 26.987923051297795, -50.41289672736166 26.982922465033347 M-50.41289672736166 26.982922465033347 C-50.57602104814879 26.962589039652276, -50.739145368935915 26.942255614271208, -50.82297295140367 26.931806517013612 M-50.41289672736166 26.982922465033347 C-50.535365201178436 26.96765678569215, -50.6578336749952 26.95239110635095, -50.82297295140367 26.931806517013612 M-50.82297295140367 26.931806517013612 C-50.92276656263527 26.910881997142923, -51.022560173866864 26.889957477272233, -51.227427435703994 26.847001329696653 M-50.82297295140367 26.931806517013612 C-50.96571961909705 26.901875688298606, -51.10846628679044 26.8719448595836, -51.227427435703994 26.847001329696653 M-51.227427435703994 26.847001329696653 C-51.328030819285864 26.817050404724938, -51.428634202867734 26.787099479753227, -51.62349734602342 26.729086208503173 M-51.227427435703994 26.847001329696653 C-51.323915777283176 26.818275505808916, -51.42040411886236 26.78954968192118, -51.62349734602342 26.729086208503173 M-51.62349734602342 26.729086208503173 C-51.728808105623386 26.687993822592958, -51.83411886522335 26.646901436682743, -52.008477123264846 26.578866633275286 M-51.62349734602342 26.729086208503173 C-51.73184585774834 26.686808488035574, -51.84019436947327 26.644530767567975, -52.008477123264846 26.578866633275286 M-52.008477123264846 26.578866633275286 C-52.142872956559984 26.51316451389936, -52.277268789855114 26.447462394523434, -52.379736965185366 26.397368756032446 M-52.008477123264846 26.578866633275286 C-52.12906039780168 26.51991706241351, -52.249643672338514 26.46096749155173, -52.379736965185366 26.397368756032446 M-52.379736965185366 26.397368756032446 C-52.51753079428243 26.315261455771743, -52.65532462337949 26.233154155511038, -52.734740790612136 26.185832391312644 M-52.379736965185366 26.397368756032446 C-52.461021109129 26.348933919313357, -52.542305253072634 26.30049908259427, -52.734740790612136 26.185832391312644 M-52.734740790612136 26.185832391312644 C-52.868209952349 26.090537241476248, -53.00167911408586 25.99524209163985, -53.07106356344834 25.94570254698197 M-52.734740790612136 26.185832391312644 C-52.83493088263455 26.114298040552118, -52.93512097465696 26.042763689791588, -53.07106356344834 25.94570254698197 M-53.07106356344834 25.94570254698197 C-53.14899984544157 25.879693883254042, -53.2269361274348 25.813685219526114, -53.386407858128706 25.67861955336566 M-53.07106356344834 25.94570254698197 C-53.1728134767174 25.859524766395687, -53.27456338998646 25.773346985809404, -53.386407858128706 25.67861955336566 M-53.386407858128706 25.67861955336566 C-53.49689246413121 25.56813494736316, -53.60737707013371 25.457650341360658, -53.67861955336566 25.386407858128706 M-53.386407858128706 25.67861955336566 C-53.48543887947737 25.57958853201699, -53.58446990082604 25.48055751066832, -53.67861955336566 25.386407858128706 M-53.67861955336566 25.386407858128706 C-53.767573144550155 25.281380551479376, -53.856526735734654 25.176353244830047, -53.94570254698197 25.07106356344834 M-53.67861955336566 25.386407858128706 C-53.740372478622156 25.31349631705382, -53.802125403878655 25.24058477597893, -53.94570254698197 25.07106356344834 M-53.94570254698197 25.07106356344834 C-54.01996352131144 24.96705459750901, -54.094224495640916 24.863045631569673, -54.185832391312644 24.734740790612133 M-53.94570254698197 25.07106356344834 C-53.99911985369152 24.996247970409197, -54.05253716040106 24.921432377370053, -54.185832391312644 24.734740790612133 M-54.185832391312644 24.734740790612133 C-54.22852668018306 24.663090528998968, -54.271220969053466 24.5914402673858, -54.39736875603244 24.37973696518537 M-54.185832391312644 24.734740790612133 C-54.24203023964487 24.640428632203246, -54.298228087977094 24.546116473794363, -54.39736875603244 24.37973696518537 M-54.39736875603244 24.37973696518537 C-54.45926728305804 24.253121504400184, -54.52116581008363 24.126506043615, -54.57886663327528 24.00847712326485 M-54.39736875603244 24.37973696518537 C-54.44184696954849 24.28875532523604, -54.486325183064544 24.197773685286712, -54.57886663327528 24.00847712326485 M-54.57886663327528 24.00847712326485 C-54.62589506888505 23.88795357207257, -54.67292350449482 23.767430020880283, -54.729086208503176 23.623497346023417 M-54.57886663327528 24.00847712326485 C-54.632264102647156 23.871631137428096, -54.68566157201903 23.734785151591343, -54.729086208503176 23.623497346023417 M-54.729086208503176 23.623497346023417 C-54.758079405557055 23.52611091381037, -54.78707260261093 23.42872448159732, -54.84700132969665 23.227427435703994 M-54.729086208503176 23.623497346023417 C-54.75578478204047 23.5338184183376, -54.782483355577774 23.44413949065178, -54.84700132969665 23.227427435703994 M-54.84700132969665 23.227427435703994 C-54.87576228264527 23.09026016137981, -54.90452323559389 22.953092887055625, -54.93180651701361 22.82297295140367 M-54.84700132969665 23.227427435703994 C-54.87133975819897 23.111352147622913, -54.89567818670129 22.995276859541832, -54.93180651701361 22.82297295140367 M-54.93180651701361 22.82297295140367 C-54.94492883373694 22.717699542593824, -54.958051150460264 22.612426133783977, -54.98292246503335 22.412896727361662 M-54.93180651701361 22.82297295140367 C-54.94995500940963 22.677377192699574, -54.968103501805636 22.53178143399548, -54.98292246503335 22.412896727361662 M-54.98292246503335 22.412896727361662 C-54.98961108153004 22.25118089030104, -54.996299698026746 22.089465053240417, -55 22 M-54.98292246503335 22.412896727361662 C-54.987838980890196 22.29402633352088, -54.99275549674705 22.175155939680092, -55 22 M-55 22 C-55 22, -55 22, -55 22 M-55 22 C-55 22, -55 22, -55 22 M-55 22 C-55 12.558911527320179, -55 3.1178230546403576, -55 -22 M-55 22 C-55 7.98116820984758, -55 -6.037663580304841, -55 -22 M-55 -22 C-55 -22, -55 -22, -55 -22 M-55 -22 C-55 -22, -55 -22, -55 -22 M-55 -22 C-54.99641265748687 -22.08673394529648, -54.99282531497374 -22.173467890592956, -54.98292246503335 -22.41289672736166 M-55 -22 C-54.99601830130699 -22.09626859865282, -54.99203660261398 -22.19253719730564, -54.98292246503335 -22.41289672736166 M-54.98292246503335 -22.41289672736166 C-54.97212285878333 -22.49953625814839, -54.961323252533305 -22.58617578893512, -54.93180651701361 -22.82297295140367 M-54.98292246503335 -22.41289672736166 C-54.97168730113433 -22.503030506870633, -54.96045213723531 -22.593164286379608, -54.93180651701361 -22.82297295140367 M-54.93180651701361 -22.82297295140367 C-54.90420721015038 -22.95460008150709, -54.87660790328715 -23.086227211610506, -54.84700132969665 -23.227427435703994 M-54.93180651701361 -22.82297295140367 C-54.91210297789841 -22.91694343839697, -54.892399438783194 -23.010913925390266, -54.84700132969665 -23.227427435703994 M-54.84700132969665 -23.227427435703994 C-54.80785873612695 -23.358905089866617, -54.76871614255726 -23.490382744029237, -54.729086208503176 -23.623497346023417 M-54.84700132969665 -23.227427435703994 C-54.81300281097724 -23.34162644702586, -54.77900429225782 -23.45582545834772, -54.729086208503176 -23.623497346023417 M-54.729086208503176 -23.623497346023417 C-54.671084395583264 -23.77214325308068, -54.61308258266335 -23.920789160137947, -54.57886663327529 -24.008477123264846 M-54.729086208503176 -23.623497346023417 C-54.674827182925895 -23.76255131118336, -54.62056815734861 -23.901605276343297, -54.57886663327529 -24.008477123264846 M-54.57886663327529 -24.008477123264846 C-54.51813827537424 -24.13269896484744, -54.457409917473186 -24.256920806430035, -54.39736875603245 -24.379736965185366 M-54.57886663327529 -24.008477123264846 C-54.51586566526113 -24.137347663136133, -54.452864697246966 -24.26621820300742, -54.39736875603245 -24.379736965185366 M-54.39736875603245 -24.379736965185366 C-54.31707313991229 -24.514490395998138, -54.236777523792135 -24.64924382681091, -54.185832391312644 -24.734740790612133 M-54.39736875603245 -24.379736965185366 C-54.32171450537487 -24.506701179725077, -54.24606025471729 -24.63366539426479, -54.185832391312644 -24.734740790612133 M-54.185832391312644 -24.734740790612133 C-54.12534867652141 -24.81945350396404, -54.06486496173017 -24.904166217315947, -53.94570254698197 -25.07106356344834 M-54.185832391312644 -24.734740790612133 C-54.12973514164479 -24.81330987730507, -54.07363789197693 -24.891878963998007, -53.94570254698197 -25.07106356344834 M-53.94570254698197 -25.07106356344834 C-53.85891548870335 -25.173532849529398, -53.77212843042473 -25.276002135610455, -53.67861955336566 -25.386407858128706 M-53.94570254698197 -25.07106356344834 C-53.863856019137124 -25.167699576268937, -53.78200949129228 -25.264335589089534, -53.67861955336566 -25.386407858128706 M-53.67861955336566 -25.386407858128706 C-53.61182732157692 -25.45320008991745, -53.54503508978817 -25.51999232170619, -53.386407858128706 -25.678619553365657 M-53.67861955336566 -25.386407858128706 C-53.61957759700271 -25.445449814491653, -53.56053564063976 -25.5044917708546, -53.386407858128706 -25.678619553365657 M-53.386407858128706 -25.678619553365657 C-53.27368914005996 -25.77408743772649, -53.16097042199121 -25.869555322087326, -53.07106356344834 -25.945702546981966 M-53.386407858128706 -25.678619553365657 C-53.29642292731015 -25.75483290210481, -53.20643799649159 -25.83104625084396, -53.07106356344834 -25.945702546981966 M-53.07106356344834 -25.945702546981966 C-52.95540328205165 -26.02828240065294, -52.839743000654956 -26.110862254323916, -52.734740790612136 -26.185832391312644 M-53.07106356344834 -25.945702546981966 C-52.966776084243705 -26.020162375960734, -52.86248860503906 -26.0946222049395, -52.734740790612136 -26.185832391312644 M-52.734740790612136 -26.185832391312644 C-52.62269192338831 -26.252599024080634, -52.510643056164476 -26.319365656848625, -52.379736965185366 -26.397368756032446 M-52.734740790612136 -26.185832391312644 C-52.62639856491942 -26.250390345135077, -52.51805633922671 -26.31494829895751, -52.379736965185366 -26.397368756032446 M-52.379736965185366 -26.397368756032446 C-52.30535904804963 -26.433729904073793, -52.2309811309139 -26.470091052115144, -52.008477123264846 -26.578866633275286 M-52.379736965185366 -26.397368756032446 C-52.237110358742996 -26.467094655213273, -52.094483752300626 -26.5368205543941, -52.008477123264846 -26.578866633275286 M-52.008477123264846 -26.578866633275286 C-51.87684482730467 -26.630229714544377, -51.74521253134451 -26.68159279581347, -51.62349734602342 -26.729086208503173 M-52.008477123264846 -26.578866633275286 C-51.88566516487832 -26.62678800814314, -51.76285320649179 -26.674709383010995, -51.62349734602342 -26.729086208503173 M-51.62349734602342 -26.729086208503173 C-51.48297548315042 -26.77092137966687, -51.34245362027742 -26.812756550830567, -51.227427435703994 -26.847001329696653 M-51.62349734602342 -26.729086208503173 C-51.54397699425515 -26.752760442954717, -51.46445664248687 -26.77643467740626, -51.227427435703994 -26.847001329696653 M-51.227427435703994 -26.847001329696653 C-51.12860306982877 -26.867722620187536, -51.02977870395355 -26.888443910678422, -50.82297295140367 -26.931806517013612 M-51.227427435703994 -26.847001329696653 C-51.12352903330875 -26.868786533765547, -51.0196306309135 -26.890571737834442, -50.82297295140367 -26.931806517013612 M-50.82297295140367 -26.931806517013612 C-50.7126502396513 -26.94555822869235, -50.602327527898936 -26.959309940371085, -50.41289672736166 -26.982922465033347 M-50.82297295140367 -26.931806517013612 C-50.71444216919888 -26.94533486490718, -50.6059113869941 -26.958863212800747, -50.41289672736166 -26.982922465033347 M-50.41289672736166 -26.982922465033347 C-50.32344460482496 -26.98662223218874, -50.233992482288244 -26.990321999344133, -50 -27 M-50.41289672736166 -26.982922465033347 C-50.32397493803304 -26.986600297445, -50.23505314870442 -26.990278129856655, -50 -27 M-50 -27 C-50 -27, -50 -27, -50 -27 M-50 -27 C-50 -27, -50 -27, -50 -27" stroke="#9370DB" stroke-width="1.3" fill="none" stroke-dasharray="0 0"/></g><g class="label" transform="translate(-40, -12)"><rect/><foreignObject width="80" height="24"><div style="display: table-cell; white-space: nowrap; line-height: 1.5; max-width: 200px; text-align: center;"><span class="nodeLabel"><p>優先度付け</p></span></div></foreignObject></g></g><g class="node default" id="flowchart-D-5" transform="translate(618, 451)"><polygon points="83,0 166,-83 83,-166 0,-83" class="label-container" transform="translate(-82.5, 83)"/><g class="label" transform="translate(-56, -12)"><rect/><foreignObject width="112" height="24"><div style="display: table-cell; white-space: nowrap; line-height: 1.5; max-width: 200px; text-align: center;"><span class="nodeLabel"><p>待機キュー管理</p></span></div></foreignObject></g></g><g class="node default" id="flowchart-E-7" transform="translate(618, 707)"><polygon points="99,0 198,-99 99,-198 0,-99" class="label-container" transform="translate(-98.5, 99)"/><g class="label" transform="translate(-72, -12)"><rect/><foreignObject width="144" height="24"><div style="display: table-cell; white-space: nowrap; line-height: 1.5; max-width: 200px; text-align: center;"><span class="nodeLabel"><p>グリッド信号再確認</p></span></div></foreignObject></g></g><g class="node default" id="flowchart-F-13" transform="translate(369, 1075)"><polygon points="91,0 182,-91 91,-182 0,-91" class="label-container" transform="translate(-90.5, 91)"/><g class="label" transform="translate(-64, -12)"><rect/><foreignObject width="128" height="24"><div style="display: table-cell; white-space: nowrap; line-height: 1.5; max-width: 200px; text-align: center;"><span class="nodeLabel"><p>優先度レベル判定</p></span></div></foreignObject></g></g><g class="node default" id="flowchart-G-15" transform="translate(110, 1475)"><rect class="basic label-container" x="-102" y="-27" width="204" height="54"/><g class="label" transform="translate(-72, -12)"><rect/><foreignObject width="144" height="24"><div style="display: table-cell; white-space: nowrap; line-height: 1.5; max-width: 200px; text-align: center;"><span class="nodeLabel"><p>即座にスケジュール</p></span></div></foreignObject></g></g><g class="node default" id="flowchart-H-17" transform="translate(369, 1267)"><rect class="basic label-container" x="-78" y="-27" width="156" height="54"/><g class="label" transform="translate(-48, -12)"><rect/><foreignObject width="96" height="24"><div style="display: table-cell; white-space: nowrap; line-height: 1.5; max-width: 200px; text-align: center;"><span class="nodeLabel"><p>キューに追加</p></span></div></foreignObject></g></g><g class="node default" id="flowchart-I-19" transform="translate(612, 1475)"><rect class="basic label-container" x="-86" y="-27" width="172" height="54"/><g class="label" transform="translate(-56, -12)"><rect/><foreignObject width="112" height="24"><div style="display: table-cell; white-space: nowrap; line-height: 1.5; max-width: 200px; text-align: center;"><span class="nodeLabel"><p>バックログ登録</p></span></div></foreignObject></g></g><g class="node default" id="flowchart-J-21" transform="translate(133.5, 1683)"><g class="basic label-container outer-path"><path d="M-74 -27 C-29.47303166408559 -27, 15.053936671828822 -27, 74 -27 C74 -27, 74 -27, 74 -27 C74.11535639340286 -26.995228824276346, 74.23071278680573 -26.99045764855269, 74.41289672736166 -26.982922465033347 C74.49580605635063 -26.972587827952516, 74.57871538533962 -26.962253190871685, 74.82297295140367 -26.931806517013612 C74.93579491690572 -26.908150238521806, 75.04861688240777 -26.884493960029996, 75.227427435704 -26.847001329696653 C75.33300173343183 -26.815570499464048, 75.43857603115964 -26.784139669231443, 75.62349734602341 -26.729086208503173 C75.76837180051888 -26.6725560209395, 75.91324625501433 -26.616025833375826, 76.00847712326485 -26.578866633275286 C76.12527529987338 -26.52176748403625, 76.24207347648189 -26.464668334797214, 76.37973696518537 -26.397368756032446 C76.49406701447153 -26.329242833797228, 76.60839706375768 -26.261116911562006, 76.73474079061214 -26.185832391312644 C76.82493169226646 -26.121437325252565, 76.91512259392078 -26.05704225919249, 77.07106356344833 -25.94570254698197 C77.16753826053082 -25.863992646597907, 77.26401295761329 -25.782282746213845, 77.3864078581287 -25.678619553365657 C77.4982105874082 -25.56681682408617, 77.61001331668768 -25.455014094806685, 77.67861955336566 -25.386407858128706 C77.73346447046083 -25.321652586877608, 77.788309387556 -25.25689731562651, 77.94570254698196 -25.07106356344834 C78.03457905777778 -24.946584265033056, 78.12345556857359 -24.82210496661777, 78.18583239131264 -24.734740790612136 C78.23454672830447 -24.652987584688734, 78.28326106529629 -24.571234378765336, 78.39736875603245 -24.37973696518537 C78.46380106825445 -24.243847498550142, 78.53023338047645 -24.10795803191491, 78.57886663327528 -24.008477123264846 C78.63559138902221 -23.86310403325045, 78.69231614476915 -23.717730943236052, 78.72908620850318 -23.623497346023417 C78.76473231125841 -23.503764197478883, 78.80037841401365 -23.384031048934354, 78.84700132969665 -23.227427435703994 C78.86950846986883 -23.120085962152498, 78.89201561004101 -23.012744488600998, 78.93180651701361 -22.82297295140367 C78.94376097447744 -22.72706865994171, 78.95571543194129 -22.63116436847975, 78.98292246503335 -22.412896727361662 C78.98636503462137 -22.329663068676116, 78.98980760420937 -22.24642940999057, 79 -22 C79 -22, 79 -22, 79 -22 C79 -12.273160673837427, 79 -2.546321347674855, 79 22 C79 22, 79 22, 79 22 C78.99583266865643 22.100756782343122, 78.99166533731287 22.20151356468625, 78.98292246503335 22.412896727361662 C78.96629708442346 22.54627336553206, 78.94967170381356 22.67965000370246, 78.93180651701361 22.82297295140367 C78.91370522711132 22.90930196150582, 78.89560393720903 22.99563097160797, 78.84700132969665 23.227427435703994 C78.81497616255872 23.334998075906032, 78.7829509954208 23.44256871610807, 78.72908620850318 23.623497346023417 C78.67517923080109 23.761649089802617, 78.62127225309902 23.899800833581818, 78.57886663327528 24.008477123264846 C78.51174192728713 24.145782903986355, 78.44461722129897 24.283088684707863, 78.39736875603245 24.379736965185366 C78.32741405422388 24.49713610259384, 78.25745935241532 24.61453524000231, 78.18583239131264 24.734740790612133 C78.12055112047393 24.826172899286266, 78.05526984963524 24.917605007960397, 77.94570254698196 25.07106356344834 C77.88087909213804 25.147600471956515, 77.81605563729413 25.224137380464686, 77.67861955336566 25.386407858128706 C77.60515660704084 25.459870804453534, 77.531693660716 25.53333375077836, 77.3864078581287 25.678619553365657 C77.31960235192227 25.73520093089066, 77.25279684571585 25.791782308415666, 77.07106356344833 25.94570254698197 C76.95947035654603 26.025378565277823, 76.84787714964375 26.105054583573676, 76.73474079061214 26.185832391312644 C76.62549677409993 26.25092769582831, 76.51625275758772 26.31602300034398, 76.37973696518537 26.397368756032446 C76.30464105658751 26.434080908711355, 76.22954514798965 26.47079306139026, 76.00847712326485 26.578866633275286 C75.88346636656398 26.627645981907786, 75.7584556098631 26.676425330540287, 75.62349734602341 26.729086208503173 C75.48950079832373 26.76897870916997, 75.35550425062404 26.80887120983677, 75.227427435704 26.847001329696653 C75.12222016865744 26.869060973823046, 75.01701290161087 26.89112061794944, 74.82297295140367 26.931806517013612 C74.69358986717872 26.947934101643337, 74.56420678295376 26.964061686273062, 74.41289672736166 26.982922465033347 C74.32683370361416 26.986482058025945, 74.24077067986666 26.990041651018547, 74 27 C74 27, 74 27, 74 27 C34.924732778570394 27, -4.150534442859211 27, -74 27 C-74 27, -74 27, -74 27 C-74.15840079736537 26.99344849455931, -74.31680159473073 26.98689698911862, -74.41289672736166 26.982922465033347 C-74.57243784923297 26.96303568493134, -74.73197897110428 26.943148904829336, -74.82297295140367 26.931806517013612 C-74.92960825354676 26.909447445415015, -75.03624355568984 26.887088373816418, -75.227427435704 26.847001329696653 C-75.3326226621694 26.815683353868497, -75.4378178886348 26.78436537804034, -75.62349734602341 26.729086208503173 C-75.73432916600021 26.685839498148813, -75.845160985977 26.64259278779445, -76.00847712326485 26.578866633275286 C-76.12619030663976 26.521320164485335, -76.24390349001466 26.46377369569538, -76.37973696518537 26.397368756032446 C-76.48240942224275 26.336189251004132, -76.58508187930012 26.27500974597582, -76.73474079061214 26.185832391312644 C-76.83705349419536 26.11278252502703, -76.9393661977786 26.039732658741414, -77.07106356344833 25.94570254698197 C-77.16941305338361 25.86240477804921, -77.26776254331888 25.779107009116448, -77.3864078581287 25.67861955336566 C-77.48493321490382 25.580094196590544, -77.58345857167895 25.481568839815424, -77.67861955336566 25.386407858128706 C-77.75997775965584 25.29034840547822, -77.84133596594602 25.19428895282773, -77.94570254698196 25.07106356344834 C-78.00764773543474 24.984303928874926, -78.06959292388753 24.897544294301515, -78.18583239131264 24.734740790612133 C-78.24214940449352 24.64022864778363, -78.29846641767439 24.545716504955127, -78.39736875603245 24.37973696518537 C-78.46249018176724 24.246528959718788, -78.52761160750202 24.113320954252202, -78.57886663327528 24.00847712326485 C-78.63481141650365 23.865102931503184, -78.69075619973204 23.72172873974152, -78.72908620850318 23.623497346023417 C-78.77606100616437 23.46571178206329, -78.82303580382555 23.307926218103162, -78.84700132969665 23.227427435703994 C-78.86463038484916 23.143350616396184, -78.88225944000169 23.059273797088377, -78.93180651701361 22.82297295140367 C-78.94785763374362 22.694203328706635, -78.96390875047365 22.565433706009603, -78.98292246503335 22.412896727361662 C-78.98660775238078 22.323794694304066, -78.99029303972821 22.23469266124647, -79 22 C-79 22, -79 22, -79 22 C-79 7.697460434017904, -79 -6.605079131964192, -79 -22 C-79 -22, -79 -22, -79 -22 C-78.99629880776523 -22.089486577779397, -78.99259761553046 -22.17897315555879, -78.98292246503335 -22.41289672736166 C-78.96535006519468 -22.553870800079896, -78.94777766535603 -22.694844872798132, -78.93180651701361 -22.82297295140367 C-78.89889626396807 -22.979929145297586, -78.86598601092251 -23.1368853391915, -78.84700132969665 -23.227427435703994 C-78.81548538873707 -23.333287615324295, -78.78396944777751 -23.439147794944596, -78.72908620850318 -23.623497346023417 C-78.69895335494685 -23.700721231340392, -78.66882050139053 -23.777945116657367, -78.57886663327528 -24.008477123264846 C-78.53856790985546 -24.09090947957514, -78.49826918643564 -24.173341835885427, -78.39736875603245 -24.379736965185366 C-78.31807786554988 -24.512804248818085, -78.23878697506733 -24.6458715324508, -78.18583239131264 -24.734740790612133 C-78.11887032457352 -24.82852700041591, -78.0519082578344 -24.922313210219688, -77.94570254698196 -25.07106356344834 C-77.85456453887421 -25.17867000628535, -77.76342653076647 -25.286276449122365, -77.67861955336566 -25.386407858128706 C-77.59598393623376 -25.4690434752606, -77.51334831910187 -25.551679092392497, -77.3864078581287 -25.678619553365657 C-77.30213060477351 -25.749998745885, -77.2178533514183 -25.821377938404346, -77.07106356344833 -25.945702546981966 C-76.93708052971716 -26.041364594370258, -76.803097495986 -26.137026641758553, -76.73474079061214 -26.185832391312644 C-76.60168154115715 -26.2651184944644, -76.46862229170215 -26.344404597616155, -76.37973696518537 -26.397368756032446 C-76.30387302017793 -26.434456378832937, -76.22800907517048 -26.471544001633433, -76.00847712326485 -26.578866633275286 C-75.90791605017762 -26.61810568575713, -75.80735497709037 -26.657344738238976, -75.62349734602341 -26.729086208503173 C-75.52060896718545 -26.759717406036696, -75.41772058834749 -26.79034860357022, -75.227427435704 -26.847001329696653 C-75.07079974124878 -26.879842703653175, -74.91417204679355 -26.912684077609693, -74.82297295140367 -26.931806517013612 C-74.70642759955504 -26.946333879971448, -74.5898822477064 -26.960861242929283, -74.41289672736167 -26.982922465033347 C-74.25425176395238 -26.989484069256314, -74.0956068005431 -26.99604567347928, -74 -27 C-74 -27, -74 -27, -74 -27" stroke="none" stroke-width="0" fill="#ECECFF"/><path d="M-74 -27 C-22.566076764389685 -27, 28.86784647122063 -27, 74 -27 M-74 -27 C-32.40509056321127 -27, 9.189818873577465 -27, 74 -27 M74 -27 C74 -27, 74 -27, 74 -27 M74 -27 C74 -27, 74 -27, 74 -27 M74 -27 C74.16030096696147 -26.993369902963472, 74.32060193392294 -26.986739805926945, 74.41289672736166 -26.982922465033347 M74 -27 C74.11583359816422 -26.99520908694142, 74.23166719632843 -26.990418173882837, 74.41289672736166 -26.982922465033347 M74.41289672736166 -26.982922465033347 C74.53163689647421 -26.968121518388877, 74.65037706558675 -26.953320571744406, 74.82297295140367 -26.931806517013612 M74.41289672736166 -26.982922465033347 C74.5717511656144 -26.963121279955132, 74.73060560386715 -26.943320094876917, 74.82297295140367 -26.931806517013612 M74.82297295140367 -26.931806517013612 C74.92915830894567 -26.909541788876783, 75.03534366648768 -26.887277060739958, 75.227427435704 -26.847001329696653 M74.82297295140367 -26.931806517013612 C74.9315149732027 -26.90904764834548, 75.04005699500173 -26.886288779677347, 75.227427435704 -26.847001329696653 M75.227427435704 -26.847001329696653 C75.35918655507355 -26.807774940304242, 75.49094567444308 -26.768548550911834, 75.62349734602341 -26.729086208503173 M75.227427435704 -26.847001329696653 C75.30934371021881 -26.822613798138544, 75.39125998473361 -26.798226266580436, 75.62349734602341 -26.729086208503173 M75.62349734602341 -26.729086208503173 C75.70855570525212 -26.695896333740205, 75.79361406448085 -26.662706458977237, 76.00847712326485 -26.578866633275286 M75.62349734602341 -26.729086208503173 C75.74325830164132 -26.68235533860991, 75.86301925725923 -26.635624468716642, 76.00847712326485 -26.578866633275286 M76.00847712326485 -26.578866633275286 C76.15645361840727 -26.506525332877025, 76.30443011354969 -26.434184032478765, 76.37973696518537 -26.397368756032446 M76.00847712326485 -26.578866633275286 C76.11181479408246 -26.528347924341958, 76.21515246490007 -26.477829215408633, 76.37973696518537 -26.397368756032446 M76.37973696518537 -26.397368756032446 C76.46724345755553 -26.34522620443287, 76.55474994992566 -26.293083652833293, 76.73474079061214 -26.185832391312644 M76.37973696518537 -26.397368756032446 C76.45201906207177 -26.354297975059048, 76.52430115895818 -26.311227194085653, 76.73474079061214 -26.185832391312644 M76.73474079061214 -26.185832391312644 C76.81905122303087 -26.125635899587056, 76.90336165544959 -26.065439407861472, 77.07106356344833 -25.94570254698197 M76.73474079061214 -26.185832391312644 C76.83661545355072 -26.11309528003592, 76.9384901164893 -26.040358168759195, 77.07106356344833 -25.94570254698197 M77.07106356344833 -25.94570254698197 C77.17515836548398 -25.857538746917793, 77.27925316751964 -25.769374946853617, 77.3864078581287 -25.678619553365657 M77.07106356344833 -25.94570254698197 C77.14351702918226 -25.884337591748807, 77.21597049491619 -25.822972636515647, 77.3864078581287 -25.678619553365657 M77.3864078581287 -25.678619553365657 C77.45686113748187 -25.608166274012493, 77.52731441683504 -25.537712994659334, 77.67861955336566 -25.386407858128706 M77.3864078581287 -25.678619553365657 C77.46639949224024 -25.598627919254124, 77.54639112635178 -25.518636285142588, 77.67861955336566 -25.386407858128706 M77.67861955336566 -25.386407858128706 C77.77474266560185 -25.27291551396939, 77.87086577783803 -25.15942316981008, 77.94570254698196 -25.07106356344834 M77.67861955336566 -25.386407858128706 C77.73716213619768 -25.317286761191884, 77.79570471902969 -25.248165664255065, 77.94570254698196 -25.07106356344834 M77.94570254698196 -25.07106356344834 C78.01292626654607 -24.97691088606173, 78.08014998611017 -24.882758208675117, 78.18583239131264 -24.734740790612136 M77.94570254698196 -25.07106356344834 C78.00794154862045 -24.983892417904308, 78.07018055025895 -24.896721272360278, 78.18583239131264 -24.734740790612136 M78.18583239131264 -24.734740790612136 C78.23249273794302 -24.656434625279942, 78.27915308457338 -24.57812845994775, 78.39736875603245 -24.37973696518537 M78.18583239131264 -24.734740790612136 C78.25785411414523 -24.61387274433905, 78.3298758369778 -24.493004698065967, 78.39736875603245 -24.37973696518537 M78.39736875603245 -24.37973696518537 C78.45807110331212 -24.25556832917921, 78.5187734505918 -24.131399693173044, 78.57886663327528 -24.008477123264846 M78.39736875603245 -24.37973696518537 C78.43577492448317 -24.30117589194091, 78.47418109293389 -24.222614818696453, 78.57886663327528 -24.008477123264846 M78.57886663327528 -24.008477123264846 C78.62125242683204 -23.899851643949447, 78.66363822038882 -23.791226164634047, 78.72908620850318 -23.623497346023417 M78.57886663327528 -24.008477123264846 C78.61367226161171 -23.919277942509765, 78.64847788994813 -23.830078761754688, 78.72908620850318 -23.623497346023417 M78.72908620850318 -23.623497346023417 C78.75979998972055 -23.52033157348121, 78.7905137709379 -23.417165800939003, 78.84700132969665 -23.227427435703994 M78.72908620850318 -23.623497346023417 C78.7752129903367 -23.46856021701727, 78.82133977217023 -23.313623088011123, 78.84700132969665 -23.227427435703994 M78.84700132969665 -23.227427435703994 C78.87410835735223 -23.09814809279808, 78.9012153850078 -22.968868749892163, 78.93180651701361 -22.82297295140367 M78.84700132969665 -23.227427435703994 C78.87438624076589 -23.096822806028232, 78.9017711518351 -22.96621817635247, 78.93180651701361 -22.82297295140367 M78.93180651701361 -22.82297295140367 C78.94944752412732 -22.681448478793037, 78.96708853124102 -22.5399240061824, 78.98292246503335 -22.412896727361662 M78.93180651701361 -22.82297295140367 C78.95146562820788 -22.665258296802016, 78.97112473940216 -22.507543642200364, 78.98292246503335 -22.412896727361662 M78.98292246503335 -22.412896727361662 C78.9882392738096 -22.284348143036855, 78.99355608258584 -22.155799558712047, 79 -22 M78.98292246503335 -22.412896727361662 C78.98649491372225 -22.32652288153461, 78.99006736241115 -22.24014903570756, 79 -22 M79 -22 C79 -22, 79 -22, 79 -22 M79 -22 C79 -22, 79 -22, 79 -22 M79 -22 C79 -12.911488714386463, 79 -3.8229774287729263, 79 22 M79 -22 C79 -4.760724671888223, 79 12.478550656223554, 79 22 M79 22 C79 22, 79 22, 79 22 M79 22 C79 22, 79 22, 79 22 M79 22 C78.99321527589157 22.16403950487558, 78.98643055178313 22.328079009751157, 78.98292246503335 22.412896727361662 M79 22 C78.99580603970708 22.101400610979095, 78.99161207941414 22.202801221958193, 78.98292246503335 22.412896727361662 M78.98292246503335 22.412896727361662 C78.96507946743806 22.556041662806106, 78.94723646984278 22.69918659825055, 78.93180651701361 22.82297295140367 M78.98292246503335 22.412896727361662 C78.97007889677803 22.51593388459746, 78.95723532852271 22.618971041833255, 78.93180651701361 22.82297295140367 M78.93180651701361 22.82297295140367 C78.9095457497632 22.929139418612184, 78.88728498251277 23.0353058858207, 78.84700132969665 23.227427435703994 M78.93180651701361 22.82297295140367 C78.90326959644801 22.959071766299793, 78.8747326758824 23.095170581195912, 78.84700132969665 23.227427435703994 M78.84700132969665 23.227427435703994 C78.82305764687578 23.307852848590777, 78.79911396405491 23.38827826147756, 78.72908620850318 23.623497346023417 M78.84700132969665 23.227427435703994 C78.80626253373025 23.36426663920583, 78.76552373776383 23.50110584270767, 78.72908620850318 23.623497346023417 M78.72908620850318 23.623497346023417 C78.68285868001321 23.741968348178013, 78.63663115152326 23.860439350332605, 78.57886663327528 24.008477123264846 M78.72908620850318 23.623497346023417 C78.69233011529126 23.717695139856364, 78.65557402207934 23.811892933689307, 78.57886663327528 24.008477123264846 M78.57886663327528 24.008477123264846 C78.52156712005456 24.125685150948755, 78.46426760683383 24.242893178632663, 78.39736875603245 24.379736965185366 M78.57886663327528 24.008477123264846 C78.52426063289487 24.120175482370303, 78.46965463251443 24.23187384147576, 78.39736875603245 24.379736965185366 M78.39736875603245 24.379736965185366 C78.34766736460546 24.463146662184684, 78.29796597317846 24.546556359184002, 78.18583239131264 24.734740790612133 M78.39736875603245 24.379736965185366 C78.31570030642831 24.516794307853342, 78.23403185682419 24.653851650521315, 78.18583239131264 24.734740790612133 M78.18583239131264 24.734740790612133 C78.10217430985789 24.85191122398098, 78.01851622840314 24.96908165734983, 77.94570254698196 25.07106356344834 M78.18583239131264 24.734740790612133 C78.12509788458084 24.819804759931785, 78.06436337784905 24.904868729251437, 77.94570254698196 25.07106356344834 M77.94570254698196 25.07106356344834 C77.86933701637246 25.161228175061698, 77.79297148576295 25.25139278667506, 77.67861955336566 25.386407858128706 M77.94570254698196 25.07106356344834 C77.87567418765876 25.153745891062666, 77.80564582833557 25.236428218676988, 77.67861955336566 25.386407858128706 M77.67861955336566 25.386407858128706 C77.56382835574675 25.50119905574762, 77.44903715812784 25.61599025336653, 77.3864078581287 25.678619553365657 M77.67861955336566 25.386407858128706 C77.57362539022182 25.491402021272542, 77.46863122707798 25.59639618441638, 77.3864078581287 25.678619553365657 M77.3864078581287 25.678619553365657 C77.30176358613252 25.750309594817423, 77.21711931413634 25.82199963626919, 77.07106356344833 25.94570254698197 M77.3864078581287 25.678619553365657 C77.30143351854282 25.750589147805822, 77.21645917895694 25.822558742245985, 77.07106356344833 25.94570254698197 M77.07106356344833 25.94570254698197 C76.95304783361742 26.029964158510342, 76.8350321037865 26.11422577003872, 76.73474079061214 26.185832391312644 M77.07106356344833 25.94570254698197 C76.97367512386766 26.01523655634714, 76.87628668428701 26.08477056571231, 76.73474079061214 26.185832391312644 M76.73474079061214 26.185832391312644 C76.63343296593546 26.246198751939925, 76.53212514125877 26.306565112567206, 76.37973696518537 26.397368756032446 M76.73474079061214 26.185832391312644 C76.60299446687058 26.264336160549448, 76.47124814312903 26.342839929786255, 76.37973696518537 26.397368756032446 M76.37973696518537 26.397368756032446 C76.2872367413691 26.4425893599639, 76.19473651755283 26.48780996389535, 76.00847712326485 26.578866633275286 M76.37973696518537 26.397368756032446 C76.25444343930644 26.458621028461536, 76.12914991342751 26.51987330089063, 76.00847712326485 26.578866633275286 M76.00847712326485 26.578866633275286 C75.90727497109684 26.61835583559069, 75.80607281892883 26.6578450379061, 75.62349734602341 26.729086208503173 M76.00847712326485 26.578866633275286 C75.91490477937734 26.61537867516118, 75.82133243548982 26.65189071704707, 75.62349734602341 26.729086208503173 M75.62349734602341 26.729086208503173 C75.53961384698286 26.754059408177753, 75.4557303479423 26.779032607852333, 75.227427435704 26.847001329696653 M75.62349734602341 26.729086208503173 C75.49707945538808 26.766722445205094, 75.37066156475272 26.80435868190702, 75.227427435704 26.847001329696653 M75.227427435704 26.847001329696653 C75.14511015846655 26.86426144767413, 75.06279288122909 26.881521565651614, 74.82297295140367 26.931806517013612 M75.227427435704 26.847001329696653 C75.11235318899887 26.87112986189495, 74.99727894229375 26.895258394093247, 74.82297295140367 26.931806517013612 M74.82297295140367 26.931806517013612 C74.69189121193784 26.948145838798297, 74.56080947247202 26.964485160582985, 74.41289672736166 26.982922465033347 M74.82297295140367 26.931806517013612 C74.68648568353522 26.948819637211002, 74.54999841566679 26.965832757408393, 74.41289672736166 26.982922465033347 M74.41289672736166 26.982922465033347 C74.28470619555671 26.988224464647832, 74.15651566375175 26.993526464262313, 74 27 M74.41289672736166 26.982922465033347 C74.29613640663186 26.987751707620767, 74.17937608590206 26.992580950208183, 74 27 M74 27 C74 27, 74 27, 74 27 M74 27 C74 27, 74 27, 74 27 M74 27 C19.843531423162588 27, -34.312937153674824 27, -74 27 M74 27 C20.369040135847726 27, -33.26191972830455 27, -74 27 M-74 27 C-74 27, -74 27, -74 27 M-74 27 C-74 27, -74 27, -74 27 M-74 27 C-74.10169914617859 26.995793692199886, -74.20339829235718 26.991587384399768, -74.41289672736166 26.982922465033347 M-74 27 C-74.0943022164596 26.996099631476103, -74.1886044329192 26.992199262952205, -74.41289672736166 26.982922465033347 M-74.41289672736166 26.982922465033347 C-74.50454631681978 26.97149835562121, -74.59619590627793 26.960074246209075, -74.82297295140367 26.931806517013612 M-74.41289672736166 26.982922465033347 C-74.51483867548063 26.97021541445207, -74.61678062359961 26.957508363870797, -74.82297295140367 26.931806517013612 M-74.82297295140367 26.931806517013612 C-74.96712757011767 26.901580472014277, -75.11128218883165 26.87135442701494, -75.227427435704 26.847001329696653 M-74.82297295140367 26.931806517013612 C-74.98289159614531 26.898275103346016, -75.14281024088696 26.864743689678416, -75.227427435704 26.847001329696653 M-75.227427435704 26.847001329696653 C-75.3375185793626 26.814225776167824, -75.4476097230212 26.781450222638995, -75.62349734602341 26.729086208503173 M-75.227427435704 26.847001329696653 C-75.36141584148719 26.807111252983418, -75.49540424727036 26.767221176270183, -75.62349734602341 26.729086208503173 M-75.62349734602341 26.729086208503173 C-75.76475765586636 26.673966264559056, -75.90601796570931 26.61884632061494, -76.00847712326485 26.578866633275286 M-75.62349734602341 26.729086208503173 C-75.71307331368197 26.694133557460784, -75.80264928134055 26.659180906418396, -76.00847712326485 26.578866633275286 M-76.00847712326485 26.578866633275286 C-76.13779311702623 26.515647896123898, -76.26710911078762 26.45242915897251, -76.37973696518537 26.397368756032446 M-76.00847712326485 26.578866633275286 C-76.13968263654172 26.514724166319734, -76.2708881498186 26.450581699364186, -76.37973696518537 26.397368756032446 M-76.37973696518537 26.397368756032446 C-76.50437245168979 26.323102126092518, -76.6290079381942 26.248835496152587, -76.73474079061214 26.185832391312644 M-76.37973696518537 26.397368756032446 C-76.48625365810533 26.333898583633104, -76.59277035102528 26.270428411233766, -76.73474079061214 26.185832391312644 M-76.73474079061214 26.185832391312644 C-76.85366012702787 26.10092561708322, -76.97257946344361 26.016018842853793, -77.07106356344833 25.94570254698197 M-76.73474079061214 26.185832391312644 C-76.85409098008937 26.100617993910056, -76.9734411695666 26.015403596507465, -77.07106356344833 25.94570254698197 M-77.07106356344833 25.94570254698197 C-77.13650585428128 25.89027575398262, -77.20194814511424 25.834848960983273, -77.3864078581287 25.67861955336566 M-77.07106356344833 25.94570254698197 C-77.14083855092895 25.886606147109728, -77.21061353840955 25.82750974723749, -77.3864078581287 25.67861955336566 M-77.3864078581287 25.67861955336566 C-77.4470128971209 25.618014514373467, -77.50761793611309 25.557409475381274, -77.67861955336566 25.386407858128706 M-77.3864078581287 25.67861955336566 C-77.48100783050214 25.584019580992223, -77.57560780287558 25.48941960861879, -77.67861955336566 25.386407858128706 M-77.67861955336566 25.386407858128706 C-77.77539436443968 25.272146054605553, -77.87216917551369 25.157884251082404, -77.94570254698196 25.07106356344834 M-77.67861955336566 25.386407858128706 C-77.75763957290307 25.29310909736053, -77.8366595924405 25.199810336592353, -77.94570254698196 25.07106356344834 M-77.94570254698196 25.07106356344834 C-78.00487175219669 24.98819193530982, -78.06404095741142 24.905320307171298, -78.18583239131264 24.734740790612133 M-77.94570254698196 25.07106356344834 C-77.99416617646548 25.003186027046997, -78.042629805949 24.935308490645657, -78.18583239131264 24.734740790612133 M-78.18583239131264 24.734740790612133 C-78.23862713602976 24.646139776966876, -78.29142188074688 24.557538763321624, -78.39736875603245 24.37973696518537 M-78.18583239131264 24.734740790612133 C-78.23688838021688 24.649057785725674, -78.28794436912112 24.56337478083922, -78.39736875603245 24.37973696518537 M-78.39736875603245 24.37973696518537 C-78.44547911666594 24.281325649555328, -78.49358947729942 24.182914333925282, -78.57886663327528 24.00847712326485 M-78.39736875603245 24.37973696518537 C-78.44359598535274 24.28517765622488, -78.48982321467305 24.190618347264394, -78.57886663327528 24.00847712326485 M-78.57886663327528 24.00847712326485 C-78.62008781262115 23.902836294377376, -78.661308991967 23.797195465489903, -78.72908620850318 23.623497346023417 M-78.57886663327528 24.00847712326485 C-78.61732300320611 23.90992189364832, -78.65577937313692 23.81136666403179, -78.72908620850318 23.623497346023417 M-78.72908620850318 23.623497346023417 C-78.754362539044 23.538595648351585, -78.77963886958482 23.45369395067975, -78.84700132969665 23.227427435703994 M-78.72908620850318 23.623497346023417 C-78.76101220882829 23.516259801273936, -78.7929382091534 23.409022256524455, -78.84700132969665 23.227427435703994 M-78.84700132969665 23.227427435703994 C-78.87724496640796 23.083188918268494, -78.90748860311926 22.93895040083299, -78.93180651701361 22.82297295140367 M-78.84700132969665 23.227427435703994 C-78.86970370792822 23.119154829150773, -78.8924060861598 23.01088222259755, -78.93180651701361 22.82297295140367 M-78.93180651701361 22.82297295140367 C-78.94909532083803 22.684274019559926, -78.96638412466244 22.545575087716177, -78.98292246503335 22.412896727361662 M-78.93180651701361 22.82297295140367 C-78.95094374236763 22.66944511095774, -78.97008096772166 22.51591727051181, -78.98292246503335 22.412896727361662 M-78.98292246503335 22.412896727361662 C-78.9890758915567 22.264120590846076, -78.99522931808004 22.115344454330494, -79 22 M-78.98292246503335 22.412896727361662 C-78.98865029319805 22.274410610441777, -78.99437812136276 22.135924493521888, -79 22 M-79 22 C-79 22, -79 22, -79 22 M-79 22 C-79 22, -79 22, -79 22 M-79 22 C-79 5.584469016047667, -79 -10.831061967904667, -79 -22 M-79 22 C-79 12.120248032535565, -79 2.240496065071131, -79 -22 M-79 -22 C-79 -22, -79 -22, -79 -22 M-79 -22 C-79 -22, -79 -22, -79 -22 M-79 -22 C-78.99371411857916 -22.15197860067733, -78.98742823715831 -22.303957201354663, -78.98292246503335 -22.41289672736166 M-79 -22 C-78.99387830088895 -22.14800903841111, -78.9877566017779 -22.296018076822225, -78.98292246503335 -22.41289672736166 M-78.98292246503335 -22.41289672736166 C-78.97062729497934 -22.511534375787154, -78.9583321249253 -22.610172024212652, -78.93180651701361 -22.82297295140367 M-78.98292246503335 -22.41289672736166 C-78.96886720627677 -22.525654636822882, -78.95481194752018 -22.638412546284105, -78.93180651701361 -22.82297295140367 M-78.93180651701361 -22.82297295140367 C-78.90952433776778 -22.929241537100918, -78.88724215852193 -23.035510122798165, -78.84700132969665 -23.227427435703994 M-78.93180651701361 -22.82297295140367 C-78.8994395428148 -22.9773381296682, -78.86707256861601 -23.13170330793273, -78.84700132969665 -23.227427435703994 M-78.84700132969665 -23.227427435703994 C-78.81042374283574 -23.35028938420619, -78.77384615597482 -23.47315133270838, -78.72908620850318 -23.623497346023417 M-78.84700132969665 -23.227427435703994 C-78.81698078172582 -23.328264678817533, -78.78696023375498 -23.42910192193107, -78.72908620850318 -23.623497346023417 M-78.72908620850318 -23.623497346023417 C-78.69393697129635 -23.71357712084345, -78.65878773408953 -23.803656895663487, -78.57886663327528 -24.008477123264846 M-78.72908620850318 -23.623497346023417 C-78.67487074238558 -23.762439677855514, -78.620655276268 -23.90138200968761, -78.57886663327528 -24.008477123264846 M-78.57886663327528 -24.008477123264846 C-78.54227730593189 -24.083321788623184, -78.50568797858848 -24.158166453981522, -78.39736875603245 -24.379736965185366 M-78.57886663327528 -24.008477123264846 C-78.5109950535544 -24.14731065862547, -78.44312347383351 -24.286144193986097, -78.39736875603245 -24.379736965185366 M-78.39736875603245 -24.379736965185366 C-78.32701338659867 -24.49780850962827, -78.2566580171649 -24.615880054071177, -78.18583239131264 -24.734740790612133 M-78.39736875603245 -24.379736965185366 C-78.32570050603839 -24.5000118074955, -78.25403225604433 -24.620286649805635, -78.18583239131264 -24.734740790612133 M-78.18583239131264 -24.734740790612133 C-78.12015649362145 -24.826725608582503, -78.05448059593024 -24.91871042655287, -77.94570254698196 -25.07106356344834 M-78.18583239131264 -24.734740790612133 C-78.1255006639813 -24.819240632281687, -78.06516893664994 -24.903740473951242, -77.94570254698196 -25.07106356344834 M-77.94570254698196 -25.07106356344834 C-77.84411498711665 -25.19100776873177, -77.74252742725135 -25.310951974015193, -77.67861955336566 -25.386407858128706 M-77.94570254698196 -25.07106356344834 C-77.85511050430014 -25.178025386125054, -77.76451846161832 -25.28498720880177, -77.67861955336566 -25.386407858128706 M-77.67861955336566 -25.386407858128706 C-77.57150650558097 -25.493520905913396, -77.46439345779628 -25.60063395369809, -77.3864078581287 -25.678619553365657 M-77.67861955336566 -25.386407858128706 C-77.61812194082688 -25.44690547066748, -77.55762432828811 -25.507403083206256, -77.3864078581287 -25.678619553365657 M-77.3864078581287 -25.678619553365657 C-77.31486203285871 -25.739215776339112, -77.24331620758872 -25.79981199931257, -77.07106356344833 -25.945702546981966 M-77.3864078581287 -25.678619553365657 C-77.2813369014363 -25.767610114250793, -77.17626594474392 -25.85660067513593, -77.07106356344833 -25.945702546981966 M-77.07106356344833 -25.945702546981966 C-76.96412346011053 -26.02205631318893, -76.85718335677272 -26.098410079395897, -76.73474079061214 -26.185832391312644 M-77.07106356344833 -25.945702546981966 C-76.9927005499229 -26.00165266323624, -76.91433753639747 -26.057602779490512, -76.73474079061214 -26.185832391312644 M-76.73474079061214 -26.185832391312644 C-76.62641648691668 -26.250379665942695, -76.51809218322123 -26.314926940572747, -76.37973696518537 -26.397368756032446 M-76.73474079061214 -26.185832391312644 C-76.60978696521171 -26.260288710061502, -76.48483313981129 -26.33474502881036, -76.37973696518537 -26.397368756032446 M-76.37973696518537 -26.397368756032446 C-76.27804223554514 -26.44708427996578, -76.17634750590491 -26.496799803899115, -76.00847712326485 -26.578866633275286 M-76.37973696518537 -26.397368756032446 C-76.29519052322564 -26.438700992949716, -76.21064408126591 -26.480033229866983, -76.00847712326485 -26.578866633275286 M-76.00847712326485 -26.578866633275286 C-75.85749507039888 -26.637780013118444, -75.70651301753291 -26.696693392961606, -75.62349734602341 -26.729086208503173 M-76.00847712326485 -26.578866633275286 C-75.91646992640952 -26.614767952894077, -75.8244627295542 -26.650669272512868, -75.62349734602341 -26.729086208503173 M-75.62349734602341 -26.729086208503173 C-75.4706723699442 -26.774584175165774, -75.31784739386498 -26.820082141828372, -75.227427435704 -26.847001329696653 M-75.62349734602341 -26.729086208503173 C-75.47895493506215 -26.772118348693652, -75.33441252410088 -26.815150488884132, -75.227427435704 -26.847001329696653 M-75.227427435704 -26.847001329696653 C-75.14597481667309 -26.864080147913548, -75.06452219764218 -26.881158966130446, -74.82297295140367 -26.931806517013612 M-75.227427435704 -26.847001329696653 C-75.12974816419324 -26.86748251914813, -75.03206889268247 -26.887963708599607, -74.82297295140367 -26.931806517013612 M-74.82297295140367 -26.931806517013612 C-74.67250919427492 -26.950561804780452, -74.52204543714619 -26.969317092547293, -74.41289672736167 -26.982922465033347 M-74.82297295140367 -26.931806517013612 C-74.72101684281189 -26.944515332695982, -74.6190607342201 -26.95722414837835, -74.41289672736167 -26.982922465033347 M-74.41289672736167 -26.982922465033347 C-74.25213831356176 -26.989571482211066, -74.09137989976185 -26.996220499388784, -74 -27 M-74.41289672736167 -26.982922465033347 C-74.30868057303945 -26.987232877060343, -74.20446441871725 -26.991543289087343, -74 -27 M-74 -27 C-74 -27, -74 -27, -74 -27 M-74 -27 C-74 -27, -74 -27, -74 -27" stroke="#9370DB" stroke-width="1.3" fill="none" stroke-dasharray="0 0"/></g><g class="label" transform="translate(-63.5, -12)"><rect/><foreignObject width="128" height="24"><div style="display: table-cell; white-space: nowrap; line-height: 1.5; max-width: 200px; text-align: center;"><span class="nodeLabel"><p>リソース割り当て</p></span></div></foreignObject></g></g><g class="node default" id="flowchart-K-23" transform="translate(369, 1475)"><polygon points="107,0 214,-107 107,-214 0,-107" class="label-container" transform="translate(-106.5, 107)"/><g class="label" transform="translate(-80, -12)"><rect/><foreignObject width="160" height="24"><div style="display: table-cell; white-space: nowrap; line-height: 1.5; max-width: 200px; text-align: center;"><span class="nodeLabel"><p>スケジューリング判定</p></span></div></foreignObject></g></g><g class="node default" id="flowchart-L-27" transform="translate(583.5, 1683)"><rect class="basic label-container" x="-70" y="-27" width="140" height="54"/><g class="label" transform="translate(-39.5, -12)"><rect/><foreignObject width="80" height="24"><div style="display: table-cell; white-space: nowrap; line-height: 1.5; max-width: 200px; text-align: center;"><span class="nodeLabel"><p>最適化待機</p></span></div></foreignObject></g></g><g class="node default" id="flowchart-M-31" transform="translate(646.5, 1843)"><polygon points="83,0 166,-83 83,-166 0,-83" class="label-container" transform="translate(-82.5, 83)"/><g class="label" transform="translate(-55.5, -12)"><rect/><foreignObject width="112" height="24"><div style="display: table-cell; white-space: nowrap; line-height: 1.5; max-width: 200px; text-align: center;"><span class="nodeLabel"><p>リソース最適化</p></span></div></foreignObject></g></g><g class="node default" id="flowchart-N-33" transform="translate(421.5, 2027)"><rect class="basic label-container" x="-94" y="-27" width="188" height="54"/><g class="label" transform="translate(-63.5, -12)"><rect/><foreignObject width="128" height="24"><div style="display: table-cell; white-space: nowrap; line-height: 1.5; max-width: 200px; text-align: center;"><span class="nodeLabel"><p>ワークロード実行</p></span></div></foreignObject></g></g><g class="node default" id="flowchart-O-39" transform="translate(421.5, 2131)"><rect class="basic label-container" x="-102" y="-27" width="204" height="54"/><g class="label" transform="translate(-71.5, -12)"><rect/><foreignObject width="144" height="24"><div style="display: table-cell; white-space: nowrap; line-height: 1.5; max-width: 200px; text-align: center;"><span class="nodeLabel"><p>完了・リソース解放</p></span></div></foreignObject></g></g></g></g></g></svg>
</body>
</html>
